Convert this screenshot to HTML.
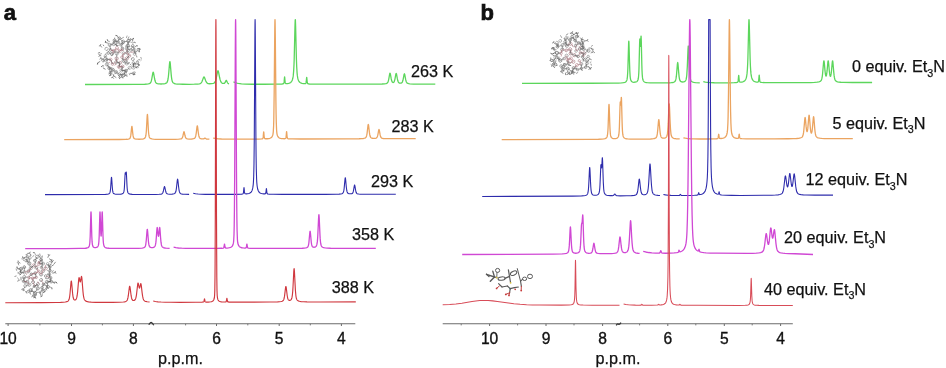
<!DOCTYPE html>
<html><head><meta charset="utf-8"><style>
html,body{margin:0;padding:0;background:#fff;}
body{width:946px;height:368px;position:relative;overflow:hidden;font-family:"Liberation Sans",sans-serif;}
</style></head><body>

<svg width="946" height="368" viewBox="0 0 946 368" style="position:absolute;left:0;top:0;will-change:transform">
<g><polygon points="131.36,68.16 130.17,69.37 128.53,68.94 128.08,67.31 129.27,66.10 130.91,66.53" fill="none" stroke="#848484" stroke-width="0.60"/>
<polygon points="122.32,45.02 121.30,46.15 119.82,45.83 119.35,44.39 120.37,43.26 121.85,43.57" fill="none" stroke="#848484" stroke-width="0.60"/>
<polygon points="133.96,60.18 132.48,60.61 131.36,59.55 131.72,58.04 133.21,57.61 134.32,58.68" fill="none" stroke="#5c5c5c" stroke-width="0.60"/>
<polygon points="118.36,49.12 116.83,49.87 115.41,48.92 115.52,47.21 117.06,46.46 118.48,47.41" fill="none" stroke="#b8868e" stroke-width="0.60"/>
<polygon points="123.17,58.52 121.58,58.69 120.64,57.41 121.29,55.95 122.87,55.78 123.81,57.06" fill="none" stroke="#a87880" stroke-width="0.60"/>
<polygon points="135.79,55.01 134.27,55.46 133.12,54.36 133.50,52.82 135.02,52.37 136.17,53.47" fill="none" stroke="#848484" stroke-width="0.60"/>
<polygon points="112.99,55.11 111.41,55.58 110.21,54.44 110.60,52.83 112.18,52.36 113.38,53.50" fill="none" stroke="#5c5c5c" stroke-width="0.60"/>
<polygon points="108.74,64.54 107.71,65.97 105.96,65.80 105.23,64.19 106.26,62.76 108.02,62.93" fill="none" stroke="#787878" stroke-width="0.60"/>
<polygon points="128.22,64.49 126.63,65.04 125.37,63.95 125.68,62.30 127.26,61.75 128.53,62.84" fill="none" stroke="#848484" stroke-width="0.60"/>
<polygon points="106.72,56.49 105.69,57.48 104.31,57.08 103.97,55.69 105.01,54.69 106.38,55.10" fill="none" stroke="#848484" stroke-width="0.60"/>
<polygon points="129.46,45.49 128.61,46.86 126.99,46.81 126.23,45.38 127.09,44.01 128.70,44.07" fill="none" stroke="#6a6a6a" stroke-width="0.60"/>
<polygon points="121.23,51.43 120.25,52.76 118.62,52.59 117.95,51.08 118.92,49.75 120.56,49.93" fill="none" stroke="#b8868e" stroke-width="0.60"/>
<polygon points="110.76,68.62 109.60,69.68 108.12,69.20 107.78,67.68 108.94,66.62 110.43,67.10" fill="none" stroke="#626262" stroke-width="0.60"/>
<polygon points="123.02,71.37 121.43,72.18 119.94,71.21 120.04,69.43 121.63,68.63 123.12,69.60" fill="none" stroke="#848484" stroke-width="0.60"/>
<polygon points="132.00,51.01 130.45,51.52 129.24,50.44 129.57,48.85 131.12,48.34 132.33,49.42" fill="none" stroke="#848484" stroke-width="0.60"/>
<polygon points="124.51,42.99 122.84,43.52 121.55,42.34 121.93,40.63 123.59,40.10 124.89,41.28" fill="none" stroke="#6a6a6a" stroke-width="0.60"/>
<polygon points="118.09,59.43 116.54,60.23 115.08,59.29 115.16,57.55 116.70,56.75 118.17,57.69" fill="none" stroke="#9a6a72" stroke-width="0.60"/>
<polygon points="114.13,70.77 112.56,71.46 111.19,70.44 111.38,68.74 112.95,68.06 114.32,69.07" fill="none" stroke="#626262" stroke-width="0.60"/>
<polygon points="107.70,50.11 106.05,50.53 104.85,49.31 105.32,47.66 106.97,47.24 108.17,48.46" fill="none" stroke="#787878" stroke-width="0.60"/>
<polygon points="134.59,64.24 133.10,64.69 131.97,63.63 132.32,62.11 133.81,61.67 134.94,62.73" fill="none" stroke="#787878" stroke-width="0.60"/>
<polygon points="121.55,63.41 120.31,64.47 118.77,63.92 118.48,62.31 119.73,61.26 121.26,61.81" fill="none" stroke="#a87880" stroke-width="0.60"/>
<polygon points="120.74,75.33 119.22,75.97 117.91,74.98 118.11,73.34 119.63,72.70 120.94,73.70" fill="none" stroke="#787878" stroke-width="0.60"/>
<polygon points="112.15,59.59 111.34,60.92 109.78,60.89 109.03,59.52 109.84,58.18 111.40,58.22" fill="none" stroke="#b8868e" stroke-width="0.60"/>
<polygon points="123.59,49.40 122.20,49.86 121.11,48.88 121.41,47.45 122.80,46.99 123.89,47.97" fill="none" stroke="#626262" stroke-width="0.60"/>
<polygon points="114.96,44.66 113.62,45.62 112.12,44.94 111.96,43.30 113.30,42.34 114.80,43.02" fill="none" stroke="#787878" stroke-width="0.60"/>
<polygon points="129.72,42.13 128.17,42.83 126.79,41.84 126.96,40.15 128.51,39.45 129.89,40.44" fill="none" stroke="#5c5c5c" stroke-width="0.60"/>
<polygon points="113.65,64.91 112.30,65.43 111.18,64.53 111.39,63.11 112.74,62.58 113.86,63.48" fill="none" stroke="#a87880" stroke-width="0.60"/>
<polygon points="120.40,67.10 119.29,68.22 117.77,67.82 117.35,66.30 118.46,65.18 119.98,65.58" fill="none" stroke="#a87880" stroke-width="0.60"/>
<polygon points="116.88,73.45 115.26,73.60 114.32,72.28 115.00,70.81 116.62,70.66 117.55,71.98" fill="none" stroke="#848484" stroke-width="0.60"/>
<polygon points="128.39,59.27 126.94,60.32 125.30,59.59 125.12,57.80 126.57,56.75 128.21,57.48" fill="none" stroke="#a87880" stroke-width="0.60"/>
<polygon points="109.74,53.28 108.74,54.39 107.28,54.08 106.82,52.67 107.82,51.56 109.27,51.86" fill="none" stroke="#787878" stroke-width="0.60"/>
<polygon points="130.72,56.49 129.38,57.40 127.93,56.69 127.81,55.08 129.15,54.17 130.60,54.87" fill="none" stroke="#a87880" stroke-width="0.60"/>
<polygon points="111.69,50.91 110.27,51.29 109.24,50.26 109.62,48.84 111.03,48.46 112.06,49.50" fill="none" stroke="#626262" stroke-width="0.60"/>
<polygon points="126.82,72.03 125.22,72.23 124.25,70.95 124.87,69.46 126.47,69.26 127.44,70.54" fill="none" stroke="#6a6a6a" stroke-width="0.60"/>
<polygon points="129.20,52.90 128.12,54.28 126.38,54.03 125.73,52.41 126.81,51.03 128.55,51.28" fill="none" stroke="#5c5c5c" stroke-width="0.60"/>
<polygon points="124.85,75.83 123.29,76.49 121.94,75.47 122.14,73.79 123.70,73.13 125.06,74.15" fill="none" stroke="#787878" stroke-width="0.60"/>
<polygon points="120.84,38.58 119.89,39.72 118.43,39.47 117.91,38.07 118.86,36.93 120.33,37.18" fill="none" stroke="#626262" stroke-width="0.60"/>
<polygon points="116.07,41.21 114.69,42.11 113.23,41.37 113.13,39.73 114.51,38.83 115.98,39.57" fill="none" stroke="#626262" stroke-width="0.60"/>
<polygon points="119.24,42.76 117.96,43.49 116.69,42.75 116.70,41.28 117.97,40.55 119.24,41.29" fill="none" stroke="#6a6a6a" stroke-width="0.60"/>
<polygon points="124.58,62.15 122.90,62.33 121.90,60.96 122.58,59.41 124.26,59.23 125.26,60.60" fill="none" stroke="#5c5c5c" stroke-width="0.60"/>
<polygon points="124.92,54.14 123.52,54.97 122.10,54.18 122.08,52.55 123.48,51.72 124.90,52.51" fill="none" stroke="#848484" stroke-width="0.60"/>
<polygon points="111.14,45.79 109.65,46.57 108.23,45.66 108.30,43.99 109.79,43.21 111.21,44.11" fill="none" stroke="#787878" stroke-width="0.60"/>
<polygon points="111.48,73.72 110.07,74.03 109.09,72.97 109.52,71.59 110.94,71.27 111.91,72.34" fill="none" stroke="#848484" stroke-width="0.60"/>
<polygon points="134.07,46.66 132.81,47.44 131.51,46.74 131.46,45.26 132.72,44.48 134.03,45.18" fill="none" stroke="#626262" stroke-width="0.60"/>
<polygon points="117.99,62.41 116.91,63.79 115.17,63.54 114.52,61.91 115.60,60.53 117.34,60.78" fill="none" stroke="#787878" stroke-width="0.60"/>
<polygon points="118.49,53.67 117.56,55.10 115.86,55.00 115.09,53.48 116.03,52.05 117.73,52.15" fill="none" stroke="#848484" stroke-width="0.60"/>
<polygon points="107.76,60.43 106.41,60.68 105.51,59.63 105.98,58.33 107.33,58.08 108.23,59.13" fill="none" stroke="#626262" stroke-width="0.60"/>
<polygon points="124.00,67.11 122.77,68.09 121.31,67.52 121.07,65.97 122.30,64.98 123.76,65.55" fill="none" stroke="#9a6a72" stroke-width="0.60"/>
<polygon points="103.95,61.14 102.58,61.62 101.49,60.68 101.75,59.26 103.12,58.78 104.21,59.72" fill="none" stroke="#787878" stroke-width="0.60"/>
<polygon points="134.60,68.81 132.84,69.16 131.65,67.81 132.23,66.10 134.00,65.75 135.18,67.11" fill="none" stroke="#848484" stroke-width="0.60"/>
<polygon points="135.48,51.46 133.80,51.62 132.82,50.24 133.53,48.71 135.21,48.55 136.19,49.93" fill="none" stroke="#848484" stroke-width="0.60"/>
<polygon points="128.46,49.43 127.44,50.46 126.04,50.09 125.66,48.69 126.68,47.66 128.08,48.03" fill="none" stroke="#626262" stroke-width="0.60"/>
<polygon points="115.95,51.36 114.77,52.70 113.02,52.34 112.45,50.65 113.63,49.32 115.38,49.67" fill="none" stroke="#a87880" stroke-width="0.60"/>
<line x1="129.72" y1="67.74" x2="125.85" y2="70.74" stroke="#6a6a6a" stroke-width="0.60"/>
<line x1="120.83" y1="44.70" x2="123.22" y2="41.81" stroke="#787878" stroke-width="0.60"/>
<line x1="116.94" y1="48.16" x2="114.20" y2="51.01" stroke="#a87880" stroke-width="0.60"/>
<line x1="116.94" y1="48.16" x2="119.59" y2="51.26" stroke="#a87880" stroke-width="0.60"/>
<line x1="122.23" y1="57.23" x2="123.58" y2="60.78" stroke="#5c5c5c" stroke-width="0.60"/>
<line x1="122.23" y1="57.23" x2="123.50" y2="53.35" stroke="#9a6a72" stroke-width="0.60"/>
<line x1="111.80" y1="53.97" x2="114.20" y2="51.01" stroke="#9a6a72" stroke-width="0.60"/>
<line x1="106.99" y1="64.37" x2="109.27" y2="68.15" stroke="#848484" stroke-width="0.60"/>
<line x1="106.99" y1="64.37" x2="106.87" y2="59.38" stroke="#787878" stroke-width="0.60"/>
<line x1="126.95" y1="63.40" x2="123.58" y2="60.78" stroke="#787878" stroke-width="0.60"/>
<line x1="126.95" y1="63.40" x2="126.76" y2="58.54" stroke="#626262" stroke-width="0.60"/>
<line x1="127.85" y1="45.44" x2="127.06" y2="49.06" stroke="#6a6a6a" stroke-width="0.60"/>
<line x1="127.85" y1="45.44" x2="128.34" y2="41.14" stroke="#5c5c5c" stroke-width="0.60"/>
<line x1="119.59" y1="51.26" x2="116.79" y2="53.58" stroke="#848484" stroke-width="0.60"/>
<line x1="119.59" y1="51.26" x2="122.50" y2="48.43" stroke="#9a6a72" stroke-width="0.60"/>
<line x1="109.27" y1="68.15" x2="112.75" y2="69.76" stroke="#787878" stroke-width="0.60"/>
<line x1="109.27" y1="68.15" x2="106.99" y2="64.37" stroke="#6a6a6a" stroke-width="0.60"/>
<line x1="121.53" y1="70.40" x2="122.54" y2="66.54" stroke="#848484" stroke-width="0.60"/>
<line x1="121.53" y1="70.40" x2="125.85" y2="70.74" stroke="#626262" stroke-width="0.60"/>
<line x1="130.79" y1="49.93" x2="134.50" y2="50.09" stroke="#626262" stroke-width="0.60"/>
<line x1="130.79" y1="49.93" x2="127.06" y2="49.06" stroke="#6a6a6a" stroke-width="0.60"/>
<line x1="123.22" y1="41.81" x2="120.83" y2="44.70" stroke="#787878" stroke-width="0.60"/>
<line x1="123.22" y1="41.81" x2="128.34" y2="41.14" stroke="#6a6a6a" stroke-width="0.60"/>
<line x1="116.62" y1="58.49" x2="116.26" y2="62.16" stroke="#5c5c5c" stroke-width="0.60"/>
<line x1="116.62" y1="58.49" x2="116.79" y2="53.58" stroke="#787878" stroke-width="0.60"/>
<line x1="112.75" y1="69.76" x2="110.50" y2="72.65" stroke="#626262" stroke-width="0.60"/>
<line x1="112.75" y1="69.76" x2="109.27" y2="68.15" stroke="#787878" stroke-width="0.60"/>
<line x1="133.46" y1="63.18" x2="133.42" y2="67.46" stroke="#5c5c5c" stroke-width="0.60"/>
<line x1="120.02" y1="62.86" x2="116.26" y2="62.16" stroke="#6a6a6a" stroke-width="0.60"/>
<line x1="120.02" y1="62.86" x2="118.87" y2="66.70" stroke="#626262" stroke-width="0.60"/>
<line x1="119.43" y1="74.34" x2="123.50" y2="74.81" stroke="#6a6a6a" stroke-width="0.60"/>
<line x1="119.43" y1="74.34" x2="115.94" y2="72.13" stroke="#626262" stroke-width="0.60"/>
<line x1="110.59" y1="59.55" x2="106.87" y2="59.38" stroke="#5c5c5c" stroke-width="0.60"/>
<line x1="110.59" y1="59.55" x2="112.52" y2="64.01" stroke="#9a6a72" stroke-width="0.60"/>
<line x1="122.50" y1="48.43" x2="119.59" y2="51.26" stroke="#9a6a72" stroke-width="0.60"/>
<line x1="122.50" y1="48.43" x2="120.83" y2="44.70" stroke="#848484" stroke-width="0.60"/>
<line x1="113.46" y1="43.98" x2="114.60" y2="40.47" stroke="#5c5c5c" stroke-width="0.60"/>
<line x1="113.46" y1="43.98" x2="109.72" y2="44.89" stroke="#848484" stroke-width="0.60"/>
<line x1="128.34" y1="41.14" x2="127.85" y2="45.44" stroke="#6a6a6a" stroke-width="0.60"/>
<line x1="112.52" y1="64.01" x2="116.26" y2="62.16" stroke="#b8868e" stroke-width="0.60"/>
<line x1="112.52" y1="64.01" x2="110.59" y2="59.55" stroke="#6a6a6a" stroke-width="0.60"/>
<line x1="118.87" y1="66.70" x2="122.54" y2="66.54" stroke="#9a6a72" stroke-width="0.60"/>
<line x1="118.87" y1="66.70" x2="120.02" y2="62.86" stroke="#5c5c5c" stroke-width="0.60"/>
<line x1="115.94" y1="72.13" x2="112.75" y2="69.76" stroke="#6a6a6a" stroke-width="0.60"/>
<line x1="126.76" y1="58.54" x2="129.26" y2="55.78" stroke="#5c5c5c" stroke-width="0.60"/>
<line x1="108.28" y1="52.97" x2="111.80" y2="53.97" stroke="#848484" stroke-width="0.60"/>
<line x1="129.26" y1="55.78" x2="127.47" y2="52.66" stroke="#b8868e" stroke-width="0.60"/>
<line x1="129.26" y1="55.78" x2="126.76" y2="58.54" stroke="#6a6a6a" stroke-width="0.60"/>
<line x1="110.65" y1="49.88" x2="114.20" y2="51.01" stroke="#a87880" stroke-width="0.60"/>
<line x1="125.85" y1="70.74" x2="121.53" y2="70.40" stroke="#5c5c5c" stroke-width="0.60"/>
<line x1="125.85" y1="70.74" x2="123.50" y2="74.81" stroke="#6a6a6a" stroke-width="0.60"/>
<line x1="127.47" y1="52.66" x2="129.26" y2="55.78" stroke="#b8868e" stroke-width="0.60"/>
<line x1="127.47" y1="52.66" x2="127.06" y2="49.06" stroke="#a87880" stroke-width="0.60"/>
<line x1="123.50" y1="74.81" x2="119.43" y2="74.34" stroke="#6a6a6a" stroke-width="0.60"/>
<line x1="123.50" y1="74.81" x2="125.85" y2="70.74" stroke="#6a6a6a" stroke-width="0.60"/>
<line x1="119.38" y1="38.33" x2="117.97" y2="42.02" stroke="#6a6a6a" stroke-width="0.60"/>
<line x1="119.38" y1="38.33" x2="123.22" y2="41.81" stroke="#5c5c5c" stroke-width="0.60"/>
<line x1="114.60" y1="40.47" x2="113.46" y2="43.98" stroke="#787878" stroke-width="0.60"/>
<line x1="114.60" y1="40.47" x2="117.97" y2="42.02" stroke="#626262" stroke-width="0.60"/>
<line x1="117.97" y1="42.02" x2="114.60" y2="40.47" stroke="#6a6a6a" stroke-width="0.60"/>
<line x1="117.97" y1="42.02" x2="120.83" y2="44.70" stroke="#848484" stroke-width="0.60"/>
<line x1="123.58" y1="60.78" x2="126.76" y2="58.54" stroke="#9a6a72" stroke-width="0.60"/>
<line x1="123.50" y1="53.35" x2="127.47" y2="52.66" stroke="#9a6a72" stroke-width="0.60"/>
<line x1="123.50" y1="53.35" x2="122.23" y2="57.23" stroke="#b8868e" stroke-width="0.60"/>
<line x1="109.72" y1="44.89" x2="113.46" y2="43.98" stroke="#848484" stroke-width="0.60"/>
<line x1="109.72" y1="44.89" x2="110.65" y2="49.88" stroke="#6a6a6a" stroke-width="0.60"/>
<line x1="110.50" y1="72.65" x2="112.75" y2="69.76" stroke="#848484" stroke-width="0.60"/>
<line x1="110.50" y1="72.65" x2="109.27" y2="68.15" stroke="#626262" stroke-width="0.60"/>
<line x1="132.77" y1="45.96" x2="130.79" y2="49.93" stroke="#848484" stroke-width="0.60"/>
<line x1="132.77" y1="45.96" x2="134.50" y2="50.09" stroke="#626262" stroke-width="0.60"/>
<line x1="116.26" y1="62.16" x2="116.62" y2="58.49" stroke="#b8868e" stroke-width="0.60"/>
<line x1="116.26" y1="62.16" x2="120.02" y2="62.86" stroke="#6a6a6a" stroke-width="0.60"/>
<line x1="116.79" y1="53.58" x2="119.59" y2="51.26" stroke="#787878" stroke-width="0.60"/>
<line x1="106.87" y1="59.38" x2="105.35" y2="56.09" stroke="#787878" stroke-width="0.60"/>
<line x1="106.87" y1="59.38" x2="110.59" y2="59.55" stroke="#848484" stroke-width="0.60"/>
<line x1="122.54" y1="66.54" x2="118.87" y2="66.70" stroke="#9a6a72" stroke-width="0.60"/>
<line x1="122.54" y1="66.54" x2="121.53" y2="70.40" stroke="#6a6a6a" stroke-width="0.60"/>
<line x1="102.85" y1="60.20" x2="106.87" y2="59.38" stroke="#787878" stroke-width="0.60"/>
<line x1="102.85" y1="60.20" x2="105.35" y2="56.09" stroke="#6a6a6a" stroke-width="0.60"/>
<line x1="133.42" y1="67.46" x2="133.46" y2="63.18" stroke="#5c5c5c" stroke-width="0.60"/>
<line x1="134.50" y1="50.09" x2="134.64" y2="53.91" stroke="#626262" stroke-width="0.60"/>
<line x1="127.06" y1="49.06" x2="127.47" y2="52.66" stroke="#787878" stroke-width="0.60"/>
<line x1="127.06" y1="49.06" x2="127.85" y2="45.44" stroke="#787878" stroke-width="0.60"/>
<line x1="114.20" y1="51.01" x2="110.65" y2="49.88" stroke="#9a6a72" stroke-width="0.60"/>
<line x1="135.97" y1="61.80" x2="137.54" y2="61.75" stroke="#5c5c5c" stroke-width="0.70"/>
<line x1="114.36" y1="39.70" x2="114.69" y2="37.55" stroke="#848484" stroke-width="0.70"/>
<line x1="131.67" y1="73.15" x2="133.07" y2="74.70" stroke="#5c5c5c" stroke-width="0.70"/>
<line x1="133.07" y1="74.70" x2="134.66" y2="74.58" stroke="#5c5c5c" stroke-width="0.70"/>
<line x1="133.07" y1="74.70" x2="134.63" y2="74.38" stroke="#5c5c5c" stroke-width="0.70"/>
<line x1="108.68" y1="43.36" x2="105.68" y2="42.48" stroke="#6a6a6a" stroke-width="0.70"/>
<line x1="105.68" y1="42.48" x2="105.46" y2="40.90" stroke="#6a6a6a" stroke-width="0.70"/>
<line x1="105.68" y1="42.48" x2="105.39" y2="40.91" stroke="#6a6a6a" stroke-width="0.70"/>
<line x1="124.61" y1="73.13" x2="125.25" y2="75.56" stroke="#5c5c5c" stroke-width="0.70"/>
<line x1="125.25" y1="75.56" x2="124.01" y2="76.57" stroke="#5c5c5c" stroke-width="0.70"/>
<line x1="125.25" y1="75.56" x2="126.84" y2="75.68" stroke="#5c5c5c" stroke-width="0.70"/>
<line x1="134.46" y1="66.71" x2="136.13" y2="67.60" stroke="#848484" stroke-width="0.70"/>
<line x1="136.13" y1="67.60" x2="137.31" y2="66.52" stroke="#848484" stroke-width="0.70"/>
<line x1="136.13" y1="67.60" x2="137.50" y2="66.79" stroke="#848484" stroke-width="0.70"/>
<line x1="129.00" y1="42.20" x2="131.09" y2="39.80" stroke="#787878" stroke-width="0.70"/>
<line x1="131.09" y1="39.80" x2="130.28" y2="38.42" stroke="#787878" stroke-width="0.70"/>
<line x1="131.09" y1="39.80" x2="130.62" y2="38.27" stroke="#787878" stroke-width="0.70"/>
<line x1="119.77" y1="75.57" x2="119.04" y2="77.67" stroke="#787878" stroke-width="0.70"/>
<line x1="119.04" y1="77.67" x2="119.98" y2="78.96" stroke="#787878" stroke-width="0.70"/>
<line x1="119.04" y1="77.67" x2="119.87" y2="79.04" stroke="#787878" stroke-width="0.70"/>
<line x1="113.73" y1="74.91" x2="112.77" y2="77.45" stroke="#626262" stroke-width="0.70"/>
<line x1="112.77" y1="77.45" x2="111.19" y2="77.70" stroke="#626262" stroke-width="0.70"/>
<line x1="112.77" y1="77.45" x2="113.79" y2="78.68" stroke="#626262" stroke-width="0.70"/>
<line x1="132.50" y1="43.61" x2="134.07" y2="42.18" stroke="#848484" stroke-width="0.70"/>
<line x1="134.07" y1="42.18" x2="135.52" y2="42.87" stroke="#848484" stroke-width="0.70"/>
<line x1="134.07" y1="42.18" x2="135.63" y2="42.52" stroke="#848484" stroke-width="0.70"/>
<line x1="103.02" y1="59.40" x2="100.83" y2="58.44" stroke="#6a6a6a" stroke-width="0.70"/>
<line x1="100.83" y1="58.44" x2="100.92" y2="56.84" stroke="#6a6a6a" stroke-width="0.70"/>
<line x1="100.83" y1="58.44" x2="99.47" y2="59.28" stroke="#6a6a6a" stroke-width="0.70"/>
<line x1="138.27" y1="51.58" x2="139.95" y2="51.84" stroke="#5c5c5c" stroke-width="0.70"/>
<line x1="111.03" y1="72.16" x2="110.68" y2="75.26" stroke="#787878" stroke-width="0.70"/>
<line x1="110.68" y1="75.26" x2="109.11" y2="75.53" stroke="#787878" stroke-width="0.70"/>
<line x1="110.68" y1="75.26" x2="109.17" y2="75.78" stroke="#787878" stroke-width="0.70"/>
<line x1="130.97" y1="39.92" x2="133.44" y2="38.31" stroke="#848484" stroke-width="0.70"/>
<line x1="100.23" y1="61.38" x2="97.68" y2="62.86" stroke="#5c5c5c" stroke-width="0.70"/>
<line x1="97.68" y1="62.86" x2="97.63" y2="64.46" stroke="#5c5c5c" stroke-width="0.70"/>
<line x1="97.68" y1="62.86" x2="97.31" y2="64.41" stroke="#5c5c5c" stroke-width="0.70"/>
<line x1="135.79" y1="67.54" x2="137.43" y2="67.85" stroke="#5c5c5c" stroke-width="0.70"/>
<line x1="101.88" y1="47.47" x2="100.46" y2="45.60" stroke="#626262" stroke-width="0.70"/>
<line x1="100.46" y1="45.60" x2="98.91" y2="45.99" stroke="#626262" stroke-width="0.70"/>
<line x1="100.46" y1="45.60" x2="100.80" y2="44.04" stroke="#626262" stroke-width="0.70"/>
<line x1="118.55" y1="38.16" x2="117.16" y2="35.68" stroke="#6a6a6a" stroke-width="0.70"/>
<line x1="117.16" y1="35.68" x2="115.60" y2="35.33" stroke="#6a6a6a" stroke-width="0.70"/>
<line x1="117.16" y1="35.68" x2="115.56" y2="35.65" stroke="#6a6a6a" stroke-width="0.70"/>
<line x1="110.31" y1="71.07" x2="109.90" y2="73.59" stroke="#787878" stroke-width="0.70"/>
<line x1="109.90" y1="73.59" x2="111.12" y2="74.62" stroke="#787878" stroke-width="0.70"/>
<line x1="109.90" y1="73.59" x2="108.35" y2="74.00" stroke="#787878" stroke-width="0.70"/>
<line x1="131.99" y1="72.97" x2="134.39" y2="73.54" stroke="#6a6a6a" stroke-width="0.70"/>
<line x1="134.39" y1="73.54" x2="135.66" y2="72.57" stroke="#6a6a6a" stroke-width="0.70"/>
<line x1="134.39" y1="73.54" x2="135.11" y2="74.97" stroke="#6a6a6a" stroke-width="0.70"/>
<line x1="137.48" y1="49.87" x2="139.30" y2="50.11" stroke="#626262" stroke-width="0.70"/>
<line x1="139.30" y1="50.11" x2="140.17" y2="48.77" stroke="#626262" stroke-width="0.70"/>
<line x1="139.30" y1="50.11" x2="139.56" y2="51.69" stroke="#626262" stroke-width="0.70"/>
<line x1="138.23" y1="59.81" x2="140.27" y2="59.73" stroke="#626262" stroke-width="0.70"/>
<line x1="132.63" y1="41.31" x2="132.69" y2="39.25" stroke="#626262" stroke-width="0.70"/>
<line x1="132.69" y1="39.25" x2="133.96" y2="38.28" stroke="#626262" stroke-width="0.70"/>
<line x1="132.69" y1="39.25" x2="133.98" y2="38.31" stroke="#626262" stroke-width="0.70"/>
<line x1="140.30" y1="57.64" x2="141.93" y2="58.29" stroke="#6a6a6a" stroke-width="0.70"/>
<line x1="136.78" y1="62.74" x2="138.33" y2="65.07" stroke="#6a6a6a" stroke-width="0.70"/>
<line x1="138.33" y1="65.07" x2="139.93" y2="64.99" stroke="#6a6a6a" stroke-width="0.70"/>
<line x1="138.33" y1="65.07" x2="139.92" y2="64.87" stroke="#6a6a6a" stroke-width="0.70"/>
<line x1="136.25" y1="51.70" x2="137.95" y2="50.43" stroke="#626262" stroke-width="0.70"/>
<line x1="135.30" y1="66.15" x2="137.06" y2="67.52" stroke="#787878" stroke-width="0.70"/>
<line x1="136.95" y1="66.28" x2="139.02" y2="67.35" stroke="#787878" stroke-width="0.70"/>
<line x1="136.95" y1="48.86" x2="139.17" y2="48.33" stroke="#626262" stroke-width="0.70"/>
<line x1="139.17" y1="48.33" x2="139.95" y2="49.72" stroke="#626262" stroke-width="0.70"/>
<line x1="139.17" y1="48.33" x2="140.46" y2="49.27" stroke="#626262" stroke-width="0.70"/>
<line x1="100.08" y1="52.41" x2="97.88" y2="53.21" stroke="#5c5c5c" stroke-width="0.70"/>
<line x1="137.09" y1="60.17" x2="138.80" y2="62.30" stroke="#6a6a6a" stroke-width="0.70"/>
<line x1="121.50" y1="74.41" x2="121.48" y2="77.08" stroke="#787878" stroke-width="0.70"/>
<line x1="121.48" y1="77.08" x2="119.94" y2="77.52" stroke="#787878" stroke-width="0.70"/>
<line x1="121.48" y1="77.08" x2="122.88" y2="77.84" stroke="#787878" stroke-width="0.70"/>
<line x1="122.49" y1="75.28" x2="121.88" y2="77.05" stroke="#848484" stroke-width="0.70"/>
<line x1="121.88" y1="77.05" x2="122.94" y2="78.24" stroke="#848484" stroke-width="0.70"/>
<line x1="121.88" y1="77.05" x2="123.12" y2="78.05" stroke="#848484" stroke-width="0.70"/>
<line x1="101.15" y1="55.55" x2="99.61" y2="55.64" stroke="#6a6a6a" stroke-width="0.70"/>
<line x1="99.61" y1="55.64" x2="98.64" y2="56.92" stroke="#6a6a6a" stroke-width="0.70"/>
<line x1="99.61" y1="55.64" x2="98.62" y2="54.38" stroke="#6a6a6a" stroke-width="0.70"/>
<line x1="109.68" y1="41.51" x2="107.64" y2="40.92" stroke="#787878" stroke-width="0.70"/>
<line x1="107.64" y1="40.92" x2="107.43" y2="39.33" stroke="#787878" stroke-width="0.70"/>
<line x1="107.64" y1="40.92" x2="107.13" y2="39.40" stroke="#787878" stroke-width="0.70"/>
<line x1="127.76" y1="39.30" x2="129.07" y2="36.58" stroke="#787878" stroke-width="0.70"/>
<line x1="126.34" y1="38.09" x2="127.16" y2="35.60" stroke="#848484" stroke-width="0.70"/>
<line x1="103.96" y1="46.12" x2="103.02" y2="44.70" stroke="#5c5c5c" stroke-width="0.70"/>
<line x1="134.49" y1="47.72" x2="136.13" y2="45.76" stroke="#787878" stroke-width="0.70"/>
<line x1="136.13" y1="45.76" x2="137.72" y2="45.88" stroke="#787878" stroke-width="0.70"/>
<line x1="136.13" y1="45.76" x2="137.73" y2="45.86" stroke="#787878" stroke-width="0.70"/>
<line x1="104.07" y1="65.99" x2="102.41" y2="65.78" stroke="#5c5c5c" stroke-width="0.70"/>
<line x1="102.41" y1="65.78" x2="101.31" y2="66.94" stroke="#5c5c5c" stroke-width="0.70"/>
<line x1="102.41" y1="65.78" x2="101.22" y2="66.85" stroke="#5c5c5c" stroke-width="0.70"/>
<line x1="127.12" y1="77.00" x2="126.71" y2="74.07" stroke="#848484" stroke-width="0.66"/>
<line x1="135.48" y1="54.33" x2="135.84" y2="51.40" stroke="#6a6a6a" stroke-width="0.74"/>
<line x1="99.23" y1="54.49" x2="101.91" y2="53.58" stroke="#6a6a6a" stroke-width="0.58"/>
<line x1="116.31" y1="77.66" x2="113.62" y2="75.87" stroke="#5c5c5c" stroke-width="0.69"/>
<line x1="125.19" y1="64.63" x2="124.96" y2="61.74" stroke="#848484" stroke-width="0.75"/>
<line x1="114.71" y1="51.61" x2="116.30" y2="52.16" stroke="#787878" stroke-width="0.75"/>
<line x1="126.27" y1="45.45" x2="125.61" y2="47.59" stroke="#5c5c5c" stroke-width="0.72"/>
<line x1="114.67" y1="50.30" x2="114.42" y2="52.93" stroke="#848484" stroke-width="0.71"/>
<line x1="119.67" y1="68.07" x2="118.14" y2="67.69" stroke="#9a6a72" stroke-width="0.70"/>
<line x1="109.15" y1="51.09" x2="107.07" y2="53.10" stroke="#787878" stroke-width="0.73"/>
<line x1="129.65" y1="63.73" x2="131.40" y2="65.28" stroke="#626262" stroke-width="0.64"/>
<line x1="110.21" y1="68.82" x2="109.31" y2="66.66" stroke="#626262" stroke-width="0.64"/>
<line x1="105.20" y1="42.87" x2="105.70" y2="41.08" stroke="#6a6a6a" stroke-width="0.73"/>
<line x1="129.76" y1="62.41" x2="126.94" y2="63.80" stroke="#5c5c5c" stroke-width="0.58"/>
<line x1="130.39" y1="52.41" x2="133.68" y2="51.95" stroke="#a87880" stroke-width="0.68"/>
<line x1="123.96" y1="43.12" x2="121.77" y2="45.43" stroke="#6a6a6a" stroke-width="0.66"/>
<line x1="123.36" y1="42.27" x2="121.39" y2="44.00" stroke="#6a6a6a" stroke-width="0.68"/>
<line x1="137.19" y1="64.35" x2="134.01" y2="63.00" stroke="#6a6a6a" stroke-width="0.64"/>
<line x1="132.62" y1="72.36" x2="135.18" y2="71.95" stroke="#787878" stroke-width="0.74"/>
<line x1="118.32" y1="74.98" x2="120.25" y2="77.68" stroke="#787878" stroke-width="0.73"/>
<line x1="129.91" y1="75.19" x2="129.11" y2="73.46" stroke="#626262" stroke-width="0.55"/>
<line x1="104.96" y1="54.26" x2="106.50" y2="53.87" stroke="#626262" stroke-width="0.62"/>
<line x1="127.70" y1="39.74" x2="130.25" y2="39.52" stroke="#6a6a6a" stroke-width="0.67"/>
<line x1="110.08" y1="62.58" x2="108.49" y2="62.54" stroke="#b8868e" stroke-width="0.68"/>
<line x1="123.62" y1="50.35" x2="120.98" y2="50.19" stroke="#9a6a72" stroke-width="0.77"/>
<line x1="114.50" y1="45.19" x2="116.49" y2="43.73" stroke="#848484" stroke-width="0.73"/>
<line x1="130.61" y1="42.53" x2="133.15" y2="41.99" stroke="#787878" stroke-width="0.56"/>
<line x1="116.00" y1="72.77" x2="114.57" y2="73.25" stroke="#626262" stroke-width="0.62"/>
<line x1="126.65" y1="70.85" x2="126.24" y2="73.52" stroke="#787878" stroke-width="0.71"/>
<line x1="114.36" y1="75.06" x2="112.10" y2="73.81" stroke="#848484" stroke-width="0.62"/>
<line x1="111.51" y1="55.56" x2="113.40" y2="53.19" stroke="#6a6a6a" stroke-width="0.75"/>
<line x1="126.99" y1="47.34" x2="130.22" y2="46.51" stroke="#6a6a6a" stroke-width="0.77"/>
<line x1="133.89" y1="65.47" x2="133.95" y2="62.86" stroke="#626262" stroke-width="0.70"/>
<line x1="115.87" y1="42.51" x2="116.79" y2="45.70" stroke="#626262" stroke-width="0.63"/>
<line x1="104.86" y1="60.22" x2="103.20" y2="62.49" stroke="#6a6a6a" stroke-width="0.57"/>
<line x1="110.93" y1="73.65" x2="110.73" y2="75.82" stroke="#6a6a6a" stroke-width="0.69"/>
<line x1="105.52" y1="69.35" x2="102.89" y2="67.79" stroke="#626262" stroke-width="0.78"/>
<line x1="111.04" y1="67.25" x2="112.19" y2="68.31" stroke="#848484" stroke-width="0.74"/>
<line x1="120.80" y1="38.93" x2="123.83" y2="37.20" stroke="#787878" stroke-width="0.68"/>
<line x1="132.26" y1="73.35" x2="129.76" y2="73.40" stroke="#787878" stroke-width="0.79"/>
<line x1="138.28" y1="62.25" x2="138.56" y2="65.66" stroke="#5c5c5c" stroke-width="0.66"/>
<line x1="117.19" y1="46.54" x2="115.21" y2="44.16" stroke="#5c5c5c" stroke-width="0.72"/>
<line x1="122.90" y1="77.66" x2="124.49" y2="76.15" stroke="#848484" stroke-width="0.75"/>
<line x1="104.05" y1="60.23" x2="105.72" y2="62.25" stroke="#6a6a6a" stroke-width="0.56"/>
<line x1="116.91" y1="72.18" x2="116.89" y2="70.57" stroke="#848484" stroke-width="0.79"/>
<line x1="135.28" y1="65.55" x2="135.74" y2="62.62" stroke="#6a6a6a" stroke-width="0.56"/>
<line x1="116.22" y1="45.27" x2="118.54" y2="45.55" stroke="#6a6a6a" stroke-width="0.76"/>
<line x1="140.57" y1="60.84" x2="141.76" y2="59.66" stroke="#787878" stroke-width="0.60"/>
<line x1="136.52" y1="55.42" x2="136.89" y2="57.35" stroke="#787878" stroke-width="0.78"/>
<line x1="116.24" y1="63.97" x2="114.78" y2="65.44" stroke="#a87880" stroke-width="0.80"/></g>
<g><polygon points="51.38,270.80 50.59,271.93 49.22,271.81 48.64,270.57 49.42,269.44 50.79,269.56" fill="none" stroke="#6a6a6a" stroke-width="0.60"/>
<polygon points="36.19,261.49 34.84,262.12 33.62,261.28 33.74,259.79 35.09,259.16 36.31,260.00" fill="none" stroke="#626262" stroke-width="0.60"/>
<polygon points="51.68,278.88 50.03,279.59 48.58,278.52 48.79,276.73 50.44,276.02 51.88,277.09" fill="none" stroke="#626262" stroke-width="0.60"/>
<polygon points="30.02,277.36 29.30,278.53 27.94,278.49 27.29,277.29 28.00,276.12 29.37,276.16" fill="none" stroke="#b8868e" stroke-width="0.60"/>
<polygon points="47.33,268.73 46.22,270.08 44.49,269.80 43.88,268.16 44.99,266.81 46.71,267.10" fill="none" stroke="#a87880" stroke-width="0.60"/>
<polygon points="47.02,276.74 45.81,277.46 44.58,276.77 44.56,275.36 45.77,274.64 47.00,275.33" fill="none" stroke="#626262" stroke-width="0.60"/>
<polygon points="44.90,292.03 43.28,292.56 42.01,291.41 42.37,289.74 43.99,289.21 45.26,290.36" fill="none" stroke="#787878" stroke-width="0.60"/>
<polygon points="40.04,265.04 38.25,265.20 37.23,263.73 37.99,262.10 39.77,261.95 40.80,263.42" fill="none" stroke="#b8868e" stroke-width="0.60"/>
<polygon points="25.86,273.15 24.35,274.07 22.80,273.22 22.76,271.46 24.27,270.54 25.82,271.39" fill="none" stroke="#787878" stroke-width="0.60"/>
<polygon points="30.96,264.09 29.61,265.22 27.96,264.61 27.66,262.88 29.01,261.76 30.66,262.36" fill="none" stroke="#626262" stroke-width="0.60"/>
<polygon points="39.54,284.38 38.48,285.67 36.84,285.39 36.26,283.83 37.32,282.55 38.96,282.82" fill="none" stroke="#787878" stroke-width="0.60"/>
<polygon points="32.22,291.14 30.70,291.95 29.24,291.03 29.30,289.31 30.83,288.50 32.29,289.42" fill="none" stroke="#626262" stroke-width="0.60"/>
<polygon points="34.05,283.41 32.48,283.58 31.54,282.31 32.18,280.87 33.75,280.69 34.69,281.96" fill="none" stroke="#5c5c5c" stroke-width="0.60"/>
<polygon points="42.72,274.59 41.85,275.94 40.25,275.86 39.51,274.43 40.38,273.08 41.99,273.16" fill="none" stroke="#5c5c5c" stroke-width="0.60"/>
<polygon points="37.38,269.00 35.95,269.33 34.95,268.25 35.39,266.85 36.82,266.52 37.82,267.60" fill="none" stroke="#5c5c5c" stroke-width="0.60"/>
<polygon points="24.79,281.76 23.73,282.62 22.46,282.14 22.24,280.79 23.29,279.93 24.57,280.41" fill="none" stroke="#6a6a6a" stroke-width="0.60"/>
<polygon points="37.61,277.42 36.83,278.58 35.43,278.49 34.81,277.23 35.59,276.06 36.99,276.16" fill="none" stroke="#a87880" stroke-width="0.60"/>
<polygon points="25.18,268.35 23.72,268.46 22.90,267.25 23.53,265.93 24.99,265.82 25.81,267.03" fill="none" stroke="#5c5c5c" stroke-width="0.60"/>
<polygon points="31.07,284.91 30.07,286.27 28.39,286.08 27.72,284.53 28.72,283.18 30.40,283.37" fill="none" stroke="#787878" stroke-width="0.60"/>
<polygon points="48.74,281.84 47.84,283.31 46.12,283.27 45.29,281.76 46.19,280.28 47.91,280.32" fill="none" stroke="#6a6a6a" stroke-width="0.60"/>
<polygon points="36.10,293.85 34.56,294.41 33.30,293.36 33.59,291.74 35.13,291.18 36.39,292.24" fill="none" stroke="#6a6a6a" stroke-width="0.60"/>
<polygon points="42.66,280.34 41.59,281.47 40.08,281.11 39.63,279.63 40.70,278.49 42.21,278.85" fill="none" stroke="#5c5c5c" stroke-width="0.60"/>
<polygon points="42.42,260.23 41.23,261.09 39.90,260.48 39.75,259.03 40.94,258.17 42.28,258.77" fill="none" stroke="#626262" stroke-width="0.60"/>
<polygon points="32.80,274.26 32.08,275.46 30.68,275.43 30.01,274.21 30.73,273.01 32.13,273.04" fill="none" stroke="#5c5c5c" stroke-width="0.60"/>
<polygon points="31.84,269.41 30.09,269.56 29.09,268.12 29.83,266.53 31.59,266.38 32.59,267.82" fill="none" stroke="#848484" stroke-width="0.60"/>
<polygon points="35.38,265.78 34.28,267.18 32.52,266.93 31.85,265.28 32.95,263.88 34.71,264.13" fill="none" stroke="#b8868e" stroke-width="0.60"/>
<polygon points="44.93,284.39 44.14,285.52 42.76,285.40 42.18,284.15 42.97,283.02 44.34,283.14" fill="none" stroke="#5c5c5c" stroke-width="0.60"/>
<polygon points="39.30,289.14 37.94,290.09 36.44,289.38 36.30,287.73 37.66,286.79 39.16,287.49" fill="none" stroke="#626262" stroke-width="0.60"/>
<polygon points="25.94,277.76 24.59,278.82 23.00,278.18 22.76,276.48 24.11,275.42 25.70,276.06" fill="none" stroke="#6a6a6a" stroke-width="0.60"/>
<polygon points="48.92,264.74 47.63,265.49 46.34,264.74 46.34,263.25 47.63,262.50 48.92,263.25" fill="none" stroke="#848484" stroke-width="0.60"/>
<polygon points="26.91,261.79 25.56,261.93 24.76,260.84 25.31,259.60 26.66,259.45 27.46,260.55" fill="none" stroke="#626262" stroke-width="0.60"/>
<polygon points="44.40,264.39 42.98,265.29 41.48,264.50 41.42,262.81 42.84,261.91 44.34,262.70" fill="none" stroke="#787878" stroke-width="0.60"/>
<polygon points="39.02,257.27 37.75,258.55 36.01,258.09 35.54,256.36 36.80,255.08 38.54,255.53" fill="none" stroke="#6a6a6a" stroke-width="0.60"/>
<polygon points="21.87,273.12 20.81,274.29 19.26,273.96 18.78,272.46 19.84,271.29 21.38,271.62" fill="none" stroke="#626262" stroke-width="0.60"/>
<polygon points="30.81,259.03 29.20,259.52 27.97,258.37 28.35,256.73 29.96,256.24 31.19,257.39" fill="none" stroke="#787878" stroke-width="0.60"/>
<polygon points="36.20,274.27 34.74,274.60 33.73,273.50 34.17,272.08 35.63,271.75 36.64,272.84" fill="none" stroke="#626262" stroke-width="0.60"/>
<polygon points="48.88,288.06 47.24,288.28 46.23,286.97 46.86,285.44 48.50,285.22 49.51,286.53" fill="none" stroke="#5c5c5c" stroke-width="0.60"/>
<polygon points="28.89,282.15 27.72,283.34 26.11,282.93 25.66,281.32 26.83,280.13 28.45,280.55" fill="none" stroke="#6a6a6a" stroke-width="0.60"/>
<polygon points="44.23,272.20 42.64,272.78 41.33,271.70 41.62,270.03 43.21,269.44 44.52,270.52" fill="none" stroke="#848484" stroke-width="0.60"/>
<polygon points="42.75,267.86 41.68,268.72 40.39,268.22 40.18,266.86 41.25,265.99 42.54,266.49" fill="none" stroke="#848484" stroke-width="0.60"/>
<polygon points="26.68,286.62 25.29,287.44 23.89,286.64 23.88,285.03 25.27,284.22 26.66,285.01" fill="none" stroke="#848484" stroke-width="0.60"/>
<polygon points="35.50,287.10 34.15,287.43 33.20,286.43 33.59,285.10 34.94,284.78 35.89,285.78" fill="none" stroke="#626262" stroke-width="0.60"/>
<polygon points="29.65,272.15 28.28,272.84 27.00,272.00 27.09,270.47 28.46,269.78 29.74,270.62" fill="none" stroke="#626262" stroke-width="0.60"/>
<polygon points="34.11,278.64 33.13,279.72 31.72,279.41 31.27,278.03 32.24,276.96 33.66,277.26" fill="none" stroke="#9a6a72" stroke-width="0.60"/>
<polygon points="50.83,267.92 49.52,268.38 48.47,267.47 48.73,266.11 50.04,265.66 51.09,266.56" fill="none" stroke="#626262" stroke-width="0.60"/>
<polygon points="43.46,287.67 42.73,288.85 41.35,288.81 40.69,287.59 41.42,286.41 42.81,286.45" fill="none" stroke="#626262" stroke-width="0.60"/>
<polygon points="22.39,269.95 20.80,270.59 19.45,269.55 19.68,267.85 21.27,267.20 22.62,268.25" fill="none" stroke="#5c5c5c" stroke-width="0.60"/>
<polygon points="40.19,272.25 38.79,273.20 37.27,272.47 37.15,270.78 38.55,269.83 40.07,270.57" fill="none" stroke="#b8868e" stroke-width="0.60"/>
<polygon points="50.75,274.33 49.89,275.63 48.33,275.53 47.64,274.14 48.50,272.84 50.05,272.93" fill="none" stroke="#848484" stroke-width="0.60"/>
<polygon points="52.14,282.74 50.55,283.06 49.48,281.84 50.00,280.30 51.59,279.98 52.66,281.20" fill="none" stroke="#626262" stroke-width="0.60"/>
<line x1="50.01" y1="270.69" x2="49.19" y2="274.23" stroke="#787878" stroke-width="0.60"/>
<line x1="50.01" y1="270.69" x2="49.78" y2="267.02" stroke="#626262" stroke-width="0.60"/>
<line x1="34.97" y1="260.64" x2="37.28" y2="256.81" stroke="#626262" stroke-width="0.60"/>
<line x1="50.23" y1="277.80" x2="49.19" y2="274.23" stroke="#626262" stroke-width="0.60"/>
<line x1="50.23" y1="277.80" x2="51.07" y2="281.52" stroke="#5c5c5c" stroke-width="0.60"/>
<line x1="28.65" y1="277.32" x2="31.40" y2="274.24" stroke="#9a6a72" stroke-width="0.60"/>
<line x1="28.65" y1="277.32" x2="32.69" y2="278.34" stroke="#b8868e" stroke-width="0.60"/>
<line x1="45.79" y1="276.05" x2="50.23" y2="277.80" stroke="#9a6a72" stroke-width="0.60"/>
<line x1="43.63" y1="290.89" x2="42.08" y2="287.63" stroke="#848484" stroke-width="0.60"/>
<line x1="43.63" y1="290.89" x2="47.87" y2="286.75" stroke="#787878" stroke-width="0.60"/>
<line x1="39.01" y1="263.57" x2="42.91" y2="263.60" stroke="#848484" stroke-width="0.60"/>
<line x1="39.01" y1="263.57" x2="41.09" y2="259.63" stroke="#a87880" stroke-width="0.60"/>
<line x1="24.31" y1="272.30" x2="20.32" y2="272.79" stroke="#787878" stroke-width="0.60"/>
<line x1="29.31" y1="263.49" x2="30.84" y2="267.97" stroke="#848484" stroke-width="0.60"/>
<line x1="37.90" y1="284.11" x2="34.55" y2="286.10" stroke="#a87880" stroke-width="0.60"/>
<line x1="30.76" y1="290.22" x2="34.84" y2="292.80" stroke="#6a6a6a" stroke-width="0.60"/>
<line x1="30.76" y1="290.22" x2="34.55" y2="286.10" stroke="#6a6a6a" stroke-width="0.60"/>
<line x1="33.11" y1="282.14" x2="34.55" y2="286.10" stroke="#b8868e" stroke-width="0.60"/>
<line x1="41.12" y1="274.51" x2="42.92" y2="271.11" stroke="#a87880" stroke-width="0.60"/>
<line x1="36.38" y1="267.92" x2="38.67" y2="271.52" stroke="#9a6a72" stroke-width="0.60"/>
<line x1="23.51" y1="281.28" x2="27.28" y2="281.74" stroke="#5c5c5c" stroke-width="0.60"/>
<line x1="23.51" y1="281.28" x2="24.35" y2="277.12" stroke="#787878" stroke-width="0.60"/>
<line x1="36.21" y1="277.32" x2="32.69" y2="278.34" stroke="#a87880" stroke-width="0.60"/>
<line x1="36.21" y1="277.32" x2="35.19" y2="273.17" stroke="#5c5c5c" stroke-width="0.60"/>
<line x1="24.36" y1="267.14" x2="21.03" y2="268.90" stroke="#787878" stroke-width="0.60"/>
<line x1="24.36" y1="267.14" x2="24.31" y2="272.30" stroke="#6a6a6a" stroke-width="0.60"/>
<line x1="29.39" y1="284.72" x2="27.28" y2="281.74" stroke="#848484" stroke-width="0.60"/>
<line x1="29.39" y1="284.72" x2="25.28" y2="285.83" stroke="#787878" stroke-width="0.60"/>
<line x1="47.02" y1="281.80" x2="51.07" y2="281.52" stroke="#5c5c5c" stroke-width="0.60"/>
<line x1="34.84" y1="292.80" x2="30.76" y2="290.22" stroke="#848484" stroke-width="0.60"/>
<line x1="34.84" y1="292.80" x2="37.80" y2="288.44" stroke="#5c5c5c" stroke-width="0.60"/>
<line x1="41.15" y1="279.98" x2="43.55" y2="284.27" stroke="#a87880" stroke-width="0.60"/>
<line x1="41.09" y1="259.63" x2="42.91" y2="263.60" stroke="#5c5c5c" stroke-width="0.60"/>
<line x1="41.09" y1="259.63" x2="39.01" y2="263.57" stroke="#5c5c5c" stroke-width="0.60"/>
<line x1="31.40" y1="274.24" x2="35.19" y2="273.17" stroke="#9a6a72" stroke-width="0.60"/>
<line x1="31.40" y1="274.24" x2="28.65" y2="277.32" stroke="#848484" stroke-width="0.60"/>
<line x1="30.84" y1="267.97" x2="33.61" y2="265.53" stroke="#626262" stroke-width="0.60"/>
<line x1="30.84" y1="267.97" x2="28.37" y2="271.31" stroke="#a87880" stroke-width="0.60"/>
<line x1="33.61" y1="265.53" x2="36.38" y2="267.92" stroke="#787878" stroke-width="0.60"/>
<line x1="33.61" y1="265.53" x2="30.84" y2="267.97" stroke="#626262" stroke-width="0.60"/>
<line x1="43.55" y1="284.27" x2="42.08" y2="287.63" stroke="#848484" stroke-width="0.60"/>
<line x1="43.55" y1="284.27" x2="47.02" y2="281.80" stroke="#787878" stroke-width="0.60"/>
<line x1="37.80" y1="288.44" x2="37.90" y2="284.11" stroke="#848484" stroke-width="0.60"/>
<line x1="24.35" y1="277.12" x2="23.51" y2="281.28" stroke="#6a6a6a" stroke-width="0.60"/>
<line x1="24.35" y1="277.12" x2="28.65" y2="277.32" stroke="#848484" stroke-width="0.60"/>
<line x1="47.63" y1="264.00" x2="49.78" y2="267.02" stroke="#6a6a6a" stroke-width="0.60"/>
<line x1="26.11" y1="260.69" x2="29.31" y2="263.49" stroke="#787878" stroke-width="0.60"/>
<line x1="42.91" y1="263.60" x2="39.01" y2="263.57" stroke="#6a6a6a" stroke-width="0.60"/>
<line x1="42.91" y1="263.60" x2="41.46" y2="267.36" stroke="#5c5c5c" stroke-width="0.60"/>
<line x1="37.28" y1="256.81" x2="34.97" y2="260.64" stroke="#787878" stroke-width="0.60"/>
<line x1="20.32" y1="272.79" x2="21.03" y2="268.90" stroke="#6a6a6a" stroke-width="0.60"/>
<line x1="20.32" y1="272.79" x2="24.31" y2="272.30" stroke="#787878" stroke-width="0.60"/>
<line x1="29.58" y1="257.88" x2="26.11" y2="260.69" stroke="#848484" stroke-width="0.60"/>
<line x1="29.58" y1="257.88" x2="29.31" y2="263.49" stroke="#848484" stroke-width="0.60"/>
<line x1="35.19" y1="273.17" x2="38.67" y2="271.52" stroke="#a87880" stroke-width="0.60"/>
<line x1="35.19" y1="273.17" x2="31.40" y2="274.24" stroke="#9a6a72" stroke-width="0.60"/>
<line x1="47.87" y1="286.75" x2="43.55" y2="284.27" stroke="#6a6a6a" stroke-width="0.60"/>
<line x1="47.87" y1="286.75" x2="47.02" y2="281.80" stroke="#626262" stroke-width="0.60"/>
<line x1="27.28" y1="281.74" x2="29.39" y2="284.72" stroke="#b8868e" stroke-width="0.60"/>
<line x1="27.28" y1="281.74" x2="23.51" y2="281.28" stroke="#9a6a72" stroke-width="0.60"/>
<line x1="42.92" y1="271.11" x2="45.60" y2="268.45" stroke="#a87880" stroke-width="0.60"/>
<line x1="42.92" y1="271.11" x2="41.12" y2="274.51" stroke="#b8868e" stroke-width="0.60"/>
<line x1="41.46" y1="267.36" x2="42.92" y2="271.11" stroke="#b8868e" stroke-width="0.60"/>
<line x1="34.55" y1="286.10" x2="37.90" y2="284.11" stroke="#6a6a6a" stroke-width="0.60"/>
<line x1="28.37" y1="271.31" x2="30.84" y2="267.97" stroke="#9a6a72" stroke-width="0.60"/>
<line x1="28.37" y1="271.31" x2="24.31" y2="272.30" stroke="#b8868e" stroke-width="0.60"/>
<line x1="32.69" y1="278.34" x2="36.21" y2="277.32" stroke="#9a6a72" stroke-width="0.60"/>
<line x1="32.69" y1="278.34" x2="33.11" y2="282.14" stroke="#9a6a72" stroke-width="0.60"/>
<line x1="49.78" y1="267.02" x2="50.01" y2="270.69" stroke="#626262" stroke-width="0.60"/>
<line x1="49.78" y1="267.02" x2="47.63" y2="264.00" stroke="#626262" stroke-width="0.60"/>
<line x1="42.08" y1="287.63" x2="43.63" y2="290.89" stroke="#848484" stroke-width="0.60"/>
<line x1="42.08" y1="287.63" x2="43.55" y2="284.27" stroke="#848484" stroke-width="0.60"/>
<line x1="21.03" y1="268.90" x2="20.32" y2="272.79" stroke="#626262" stroke-width="0.60"/>
<line x1="38.67" y1="271.52" x2="35.19" y2="273.17" stroke="#b8868e" stroke-width="0.60"/>
<line x1="38.67" y1="271.52" x2="41.12" y2="274.51" stroke="#a87880" stroke-width="0.60"/>
<line x1="49.19" y1="274.23" x2="50.01" y2="270.69" stroke="#848484" stroke-width="0.60"/>
<line x1="49.19" y1="274.23" x2="50.23" y2="277.80" stroke="#626262" stroke-width="0.60"/>
<line x1="51.07" y1="281.52" x2="50.23" y2="277.80" stroke="#848484" stroke-width="0.60"/>
<line x1="51.07" y1="281.52" x2="47.02" y2="281.80" stroke="#848484" stroke-width="0.60"/>
<line x1="28.21" y1="290.00" x2="26.65" y2="291.90" stroke="#5c5c5c" stroke-width="0.70"/>
<line x1="26.65" y1="291.90" x2="25.06" y2="291.73" stroke="#5c5c5c" stroke-width="0.70"/>
<line x1="26.65" y1="291.90" x2="26.87" y2="293.48" stroke="#5c5c5c" stroke-width="0.70"/>
<line x1="23.82" y1="260.83" x2="22.72" y2="259.06" stroke="#787878" stroke-width="0.70"/>
<line x1="51.42" y1="266.18" x2="53.67" y2="264.84" stroke="#5c5c5c" stroke-width="0.70"/>
<line x1="42.24" y1="293.47" x2="42.09" y2="296.18" stroke="#787878" stroke-width="0.70"/>
<line x1="42.09" y1="296.18" x2="40.67" y2="296.92" stroke="#787878" stroke-width="0.70"/>
<line x1="42.09" y1="296.18" x2="40.55" y2="296.63" stroke="#787878" stroke-width="0.70"/>
<line x1="18.94" y1="265.35" x2="18.10" y2="263.83" stroke="#787878" stroke-width="0.70"/>
<line x1="18.10" y1="263.83" x2="19.08" y2="262.57" stroke="#787878" stroke-width="0.70"/>
<line x1="18.10" y1="263.83" x2="19.15" y2="262.62" stroke="#787878" stroke-width="0.70"/>
<line x1="52.48" y1="273.25" x2="55.02" y2="272.52" stroke="#5c5c5c" stroke-width="0.70"/>
<line x1="55.02" y1="272.52" x2="55.41" y2="270.97" stroke="#5c5c5c" stroke-width="0.70"/>
<line x1="55.02" y1="272.52" x2="56.37" y2="273.36" stroke="#5c5c5c" stroke-width="0.70"/>
<line x1="19.75" y1="280.14" x2="17.22" y2="281.28" stroke="#6a6a6a" stroke-width="0.70"/>
<line x1="47.04" y1="287.53" x2="48.40" y2="288.38" stroke="#848484" stroke-width="0.70"/>
<line x1="49.60" y1="286.93" x2="51.79" y2="287.64" stroke="#848484" stroke-width="0.70"/>
<line x1="51.79" y1="287.64" x2="51.82" y2="289.24" stroke="#848484" stroke-width="0.70"/>
<line x1="51.79" y1="287.64" x2="52.13" y2="289.21" stroke="#848484" stroke-width="0.70"/>
<line x1="25.30" y1="259.00" x2="22.57" y2="257.77" stroke="#787878" stroke-width="0.70"/>
<line x1="22.57" y1="257.77" x2="21.43" y2="258.90" stroke="#787878" stroke-width="0.70"/>
<line x1="22.57" y1="257.77" x2="22.62" y2="256.17" stroke="#787878" stroke-width="0.70"/>
<line x1="34.12" y1="292.67" x2="33.88" y2="294.89" stroke="#6a6a6a" stroke-width="0.70"/>
<line x1="33.88" y1="294.89" x2="35.20" y2="295.79" stroke="#6a6a6a" stroke-width="0.70"/>
<line x1="33.88" y1="294.89" x2="32.43" y2="295.56" stroke="#6a6a6a" stroke-width="0.70"/>
<line x1="19.51" y1="269.05" x2="17.13" y2="268.26" stroke="#6a6a6a" stroke-width="0.70"/>
<line x1="17.13" y1="268.26" x2="17.08" y2="266.66" stroke="#6a6a6a" stroke-width="0.70"/>
<line x1="17.13" y1="268.26" x2="16.96" y2="266.67" stroke="#6a6a6a" stroke-width="0.70"/>
<line x1="16.55" y1="275.91" x2="14.53" y2="276.50" stroke="#6a6a6a" stroke-width="0.70"/>
<line x1="53.73" y1="264.45" x2="55.61" y2="261.86" stroke="#626262" stroke-width="0.70"/>
<line x1="33.66" y1="294.86" x2="34.23" y2="297.09" stroke="#848484" stroke-width="0.70"/>
<line x1="34.23" y1="297.09" x2="35.77" y2="297.53" stroke="#848484" stroke-width="0.70"/>
<line x1="34.23" y1="297.09" x2="35.62" y2="297.88" stroke="#848484" stroke-width="0.70"/>
<line x1="31.10" y1="255.63" x2="29.54" y2="253.08" stroke="#5c5c5c" stroke-width="0.70"/>
<line x1="29.54" y1="253.08" x2="27.99" y2="253.49" stroke="#5c5c5c" stroke-width="0.70"/>
<line x1="29.54" y1="253.08" x2="30.41" y2="251.73" stroke="#5c5c5c" stroke-width="0.70"/>
<line x1="53.33" y1="282.45" x2="56.06" y2="281.97" stroke="#5c5c5c" stroke-width="0.70"/>
<line x1="56.06" y1="281.97" x2="56.88" y2="283.34" stroke="#5c5c5c" stroke-width="0.70"/>
<line x1="56.06" y1="281.97" x2="57.01" y2="283.25" stroke="#5c5c5c" stroke-width="0.70"/>
<line x1="51.03" y1="263.32" x2="51.49" y2="261.70" stroke="#626262" stroke-width="0.70"/>
<line x1="49.47" y1="265.09" x2="51.82" y2="263.82" stroke="#6a6a6a" stroke-width="0.70"/>
<line x1="36.53" y1="293.57" x2="36.07" y2="295.83" stroke="#6a6a6a" stroke-width="0.70"/>
<line x1="45.69" y1="287.83" x2="46.88" y2="290.32" stroke="#626262" stroke-width="0.70"/>
<line x1="24.97" y1="289.80" x2="23.05" y2="290.88" stroke="#848484" stroke-width="0.70"/>
<line x1="40.38" y1="258.55" x2="41.53" y2="256.52" stroke="#626262" stroke-width="0.70"/>
<line x1="40.31" y1="293.16" x2="40.91" y2="295.77" stroke="#6a6a6a" stroke-width="0.70"/>
<line x1="47.77" y1="257.77" x2="48.69" y2="255.40" stroke="#626262" stroke-width="0.70"/>
<line x1="48.69" y1="255.40" x2="50.19" y2="254.85" stroke="#626262" stroke-width="0.70"/>
<line x1="48.69" y1="255.40" x2="47.95" y2="253.98" stroke="#626262" stroke-width="0.70"/>
<line x1="28.86" y1="257.90" x2="26.66" y2="256.59" stroke="#6a6a6a" stroke-width="0.70"/>
<line x1="26.66" y1="256.59" x2="25.32" y2="257.47" stroke="#6a6a6a" stroke-width="0.70"/>
<line x1="26.66" y1="256.59" x2="26.89" y2="255.01" stroke="#6a6a6a" stroke-width="0.70"/>
<line x1="41.60" y1="290.06" x2="40.79" y2="292.70" stroke="#6a6a6a" stroke-width="0.70"/>
<line x1="40.79" y1="292.70" x2="39.19" y2="292.81" stroke="#6a6a6a" stroke-width="0.70"/>
<line x1="40.79" y1="292.70" x2="39.23" y2="293.08" stroke="#6a6a6a" stroke-width="0.70"/>
<line x1="51.52" y1="262.18" x2="53.89" y2="260.25" stroke="#787878" stroke-width="0.70"/>
<line x1="35.70" y1="255.38" x2="34.53" y2="252.55" stroke="#848484" stroke-width="0.70"/>
<line x1="34.53" y1="252.55" x2="32.93" y2="252.49" stroke="#848484" stroke-width="0.70"/>
<line x1="34.53" y1="252.55" x2="32.94" y2="252.69" stroke="#848484" stroke-width="0.70"/>
<line x1="47.39" y1="287.10" x2="48.30" y2="288.30" stroke="#5c5c5c" stroke-width="0.70"/>
<line x1="28.24" y1="256.24" x2="27.14" y2="254.40" stroke="#848484" stroke-width="0.70"/>
<line x1="27.14" y1="254.40" x2="27.62" y2="252.87" stroke="#848484" stroke-width="0.70"/>
<line x1="27.14" y1="254.40" x2="25.57" y2="254.70" stroke="#848484" stroke-width="0.70"/>
<line x1="51.73" y1="281.89" x2="53.66" y2="282.12" stroke="#787878" stroke-width="0.70"/>
<line x1="53.66" y1="282.12" x2="54.27" y2="283.60" stroke="#787878" stroke-width="0.70"/>
<line x1="53.66" y1="282.12" x2="54.48" y2="283.49" stroke="#787878" stroke-width="0.70"/>
<line x1="49.15" y1="261.73" x2="51.78" y2="260.73" stroke="#787878" stroke-width="0.70"/>
<line x1="51.78" y1="260.73" x2="52.86" y2="261.91" stroke="#787878" stroke-width="0.70"/>
<line x1="51.78" y1="260.73" x2="51.99" y2="259.14" stroke="#787878" stroke-width="0.70"/>
<line x1="28.90" y1="289.55" x2="29.19" y2="291.97" stroke="#848484" stroke-width="0.70"/>
<line x1="29.19" y1="291.97" x2="27.86" y2="292.86" stroke="#848484" stroke-width="0.70"/>
<line x1="29.19" y1="291.97" x2="30.58" y2="292.76" stroke="#848484" stroke-width="0.70"/>
<line x1="35.41" y1="294.76" x2="34.85" y2="297.08" stroke="#5c5c5c" stroke-width="0.70"/>
<line x1="34.85" y1="297.08" x2="35.72" y2="298.42" stroke="#5c5c5c" stroke-width="0.70"/>
<line x1="34.85" y1="297.08" x2="33.42" y2="297.80" stroke="#5c5c5c" stroke-width="0.70"/>
<line x1="40.08" y1="257.61" x2="39.33" y2="256.02" stroke="#787878" stroke-width="0.70"/>
<line x1="32.81" y1="294.68" x2="32.71" y2="296.33" stroke="#848484" stroke-width="0.70"/>
<line x1="32.71" y1="296.33" x2="31.24" y2="296.97" stroke="#848484" stroke-width="0.70"/>
<line x1="32.71" y1="296.33" x2="34.10" y2="297.12" stroke="#848484" stroke-width="0.70"/>
<line x1="20.48" y1="263.36" x2="18.34" y2="261.99" stroke="#787878" stroke-width="0.70"/>
<line x1="18.34" y1="261.99" x2="16.83" y2="262.52" stroke="#787878" stroke-width="0.70"/>
<line x1="18.34" y1="261.99" x2="18.07" y2="260.41" stroke="#787878" stroke-width="0.70"/>
<line x1="25.19" y1="286.56" x2="23.48" y2="288.93" stroke="#6a6a6a" stroke-width="0.70"/>
<line x1="23.48" y1="288.93" x2="21.88" y2="288.94" stroke="#6a6a6a" stroke-width="0.70"/>
<line x1="23.48" y1="288.93" x2="23.91" y2="290.47" stroke="#6a6a6a" stroke-width="0.70"/>
<line x1="42.34" y1="257.69" x2="42.36" y2="255.49" stroke="#848484" stroke-width="0.70"/>
<line x1="21.37" y1="289.51" x2="23.58" y2="290.27" stroke="#848484" stroke-width="0.77"/>
<line x1="16.05" y1="268.62" x2="16.70" y2="270.79" stroke="#626262" stroke-width="0.59"/>
<line x1="30.76" y1="294.50" x2="29.65" y2="292.66" stroke="#626262" stroke-width="0.76"/>
<line x1="27.92" y1="262.30" x2="28.14" y2="260.34" stroke="#5c5c5c" stroke-width="0.60"/>
<line x1="35.95" y1="262.36" x2="34.50" y2="261.23" stroke="#626262" stroke-width="0.65"/>
<line x1="49.15" y1="258.72" x2="52.01" y2="260.44" stroke="#5c5c5c" stroke-width="0.71"/>
<line x1="46.99" y1="285.58" x2="46.67" y2="287.19" stroke="#848484" stroke-width="0.79"/>
<line x1="47.24" y1="270.42" x2="48.47" y2="271.40" stroke="#5c5c5c" stroke-width="0.62"/>
<line x1="52.14" y1="260.62" x2="51.96" y2="262.85" stroke="#787878" stroke-width="0.72"/>
<line x1="40.43" y1="254.54" x2="39.83" y2="256.79" stroke="#848484" stroke-width="0.73"/>
<line x1="25.70" y1="256.78" x2="27.67" y2="258.32" stroke="#848484" stroke-width="0.68"/>
<line x1="30.56" y1="270.67" x2="28.06" y2="272.13" stroke="#9a6a72" stroke-width="0.60"/>
<line x1="17.88" y1="271.81" x2="18.23" y2="274.08" stroke="#848484" stroke-width="0.56"/>
<line x1="35.36" y1="262.07" x2="34.69" y2="265.37" stroke="#626262" stroke-width="0.73"/>
<line x1="40.78" y1="291.08" x2="38.36" y2="292.54" stroke="#626262" stroke-width="0.60"/>
<line x1="51.67" y1="272.98" x2="53.48" y2="270.12" stroke="#787878" stroke-width="0.63"/>
<line x1="38.32" y1="292.19" x2="35.62" y2="292.93" stroke="#848484" stroke-width="0.69"/>
<line x1="33.50" y1="286.61" x2="36.46" y2="285.18" stroke="#626262" stroke-width="0.71"/>
<line x1="21.09" y1="280.33" x2="20.93" y2="276.84" stroke="#5c5c5c" stroke-width="0.67"/>
<line x1="34.96" y1="266.21" x2="38.40" y2="265.79" stroke="#9a6a72" stroke-width="0.68"/>
<line x1="27.10" y1="273.12" x2="26.44" y2="274.88" stroke="#a87880" stroke-width="0.58"/>
<line x1="22.01" y1="278.12" x2="24.05" y2="278.10" stroke="#848484" stroke-width="0.68"/>
<line x1="48.48" y1="281.85" x2="51.13" y2="281.03" stroke="#5c5c5c" stroke-width="0.78"/>
<line x1="50.68" y1="266.00" x2="48.95" y2="266.73" stroke="#6a6a6a" stroke-width="0.66"/>
<line x1="29.44" y1="291.20" x2="32.31" y2="291.28" stroke="#5c5c5c" stroke-width="0.65"/>
<line x1="26.21" y1="282.82" x2="24.03" y2="283.14" stroke="#626262" stroke-width="0.74"/>
<line x1="40.36" y1="264.98" x2="39.35" y2="262.62" stroke="#b8868e" stroke-width="0.58"/>
<line x1="26.37" y1="258.55" x2="26.99" y2="260.38" stroke="#5c5c5c" stroke-width="0.60"/>
<line x1="41.20" y1="259.29" x2="42.86" y2="260.68" stroke="#848484" stroke-width="0.77"/>
<line x1="38.75" y1="263.85" x2="38.66" y2="261.04" stroke="#9a6a72" stroke-width="0.68"/>
<line x1="49.71" y1="266.16" x2="48.67" y2="264.97" stroke="#787878" stroke-width="0.76"/>
<line x1="28.49" y1="279.81" x2="30.15" y2="277.86" stroke="#9a6a72" stroke-width="0.77"/>
<line x1="43.21" y1="268.56" x2="41.13" y2="266.51" stroke="#626262" stroke-width="0.60"/>
<line x1="50.48" y1="274.48" x2="47.05" y2="274.25" stroke="#787878" stroke-width="0.66"/>
<line x1="38.51" y1="283.45" x2="37.87" y2="281.61" stroke="#a87880" stroke-width="0.75"/>
<line x1="25.27" y1="257.18" x2="22.73" y2="258.35" stroke="#626262" stroke-width="0.75"/>
<line x1="31.13" y1="254.77" x2="29.82" y2="256.10" stroke="#787878" stroke-width="0.65"/>
<line x1="42.79" y1="290.86" x2="41.35" y2="288.77" stroke="#848484" stroke-width="0.68"/>
<line x1="33.91" y1="255.20" x2="32.34" y2="257.25" stroke="#626262" stroke-width="0.56"/>
<line x1="44.92" y1="267.78" x2="45.54" y2="265.06" stroke="#b8868e" stroke-width="0.75"/>
<line x1="26.38" y1="260.66" x2="28.56" y2="262.11" stroke="#6a6a6a" stroke-width="0.62"/>
<line x1="45.03" y1="278.50" x2="48.33" y2="278.52" stroke="#787878" stroke-width="0.57"/>
<line x1="38.59" y1="255.52" x2="39.70" y2="253.54" stroke="#787878" stroke-width="0.75"/>
<line x1="34.34" y1="294.34" x2="36.78" y2="293.88" stroke="#6a6a6a" stroke-width="0.57"/>
<line x1="19.07" y1="280.10" x2="17.48" y2="277.45" stroke="#848484" stroke-width="0.61"/>
<line x1="46.47" y1="267.51" x2="44.85" y2="268.09" stroke="#848484" stroke-width="0.76"/>
<line x1="20.96" y1="274.31" x2="19.53" y2="274.84" stroke="#626262" stroke-width="0.73"/>
<line x1="46.99" y1="287.08" x2="47.02" y2="285.00" stroke="#787878" stroke-width="0.66"/>
<line x1="17.51" y1="268.91" x2="20.87" y2="268.90" stroke="#787878" stroke-width="0.70"/>
<line x1="42.57" y1="292.93" x2="45.35" y2="291.04" stroke="#626262" stroke-width="0.79"/></g>
<g><polygon points="574.78,68.89 573.41,69.54 572.16,68.68 572.28,67.16 573.65,66.51 574.90,67.37" fill="none" stroke="#626262" stroke-width="0.60"/>
<polygon points="576.00,55.64 574.79,56.87 573.12,56.42 572.66,54.76 573.88,53.53 575.55,53.98" fill="none" stroke="#9a6a72" stroke-width="0.60"/>
<polygon points="557.98,58.32 556.54,58.94 555.28,58.00 555.47,56.45 556.90,55.83 558.16,56.76" fill="none" stroke="#6a6a6a" stroke-width="0.60"/>
<polygon points="574.96,62.34 573.56,63.42 571.93,62.74 571.69,60.99 573.09,59.91 574.73,60.59" fill="none" stroke="#a87880" stroke-width="0.60"/>
<polygon points="582.40,69.32 581.08,69.68 580.11,68.72 580.46,67.39 581.78,67.03 582.75,67.99" fill="none" stroke="#787878" stroke-width="0.60"/>
<polygon points="583.85,45.82 582.44,46.89 580.82,46.21 580.59,44.46 581.99,43.39 583.62,44.07" fill="none" stroke="#626262" stroke-width="0.60"/>
<polygon points="577.47,51.28 576.52,52.33 575.14,52.02 574.71,50.68 575.66,49.63 577.04,49.94" fill="none" stroke="#848484" stroke-width="0.60"/>
<polygon points="576.12,41.48 574.62,41.81 573.58,40.67 574.05,39.20 575.56,38.88 576.59,40.02" fill="none" stroke="#626262" stroke-width="0.60"/>
<polygon points="565.76,66.19 564.16,66.42 563.17,65.15 563.77,63.65 565.36,63.42 566.36,64.69" fill="none" stroke="#5c5c5c" stroke-width="0.60"/>
<polygon points="584.62,41.38 583.58,42.66 581.95,42.39 581.36,40.85 582.41,39.57 584.04,39.84" fill="none" stroke="#787878" stroke-width="0.60"/>
<polygon points="589.76,51.83 588.24,52.35 587.03,51.30 587.33,49.72 588.85,49.20 590.06,50.25" fill="none" stroke="#6a6a6a" stroke-width="0.60"/>
<polygon points="561.72,41.05 560.83,42.22 559.38,42.04 558.80,40.69 559.69,39.52 561.15,39.70" fill="none" stroke="#848484" stroke-width="0.60"/>
<polygon points="588.57,63.67 587.61,64.87 586.09,64.64 585.53,63.21 586.49,62.01 588.01,62.25" fill="none" stroke="#787878" stroke-width="0.60"/>
<polygon points="565.20,59.36 563.93,59.96 562.78,59.16 562.89,57.77 564.16,57.17 565.32,57.96" fill="none" stroke="#848484" stroke-width="0.60"/>
<polygon points="571.33,45.19 569.59,45.31 568.62,43.86 569.39,42.29 571.13,42.18 572.10,43.63" fill="none" stroke="#a87880" stroke-width="0.60"/>
<polygon points="572.55,58.43 571.70,59.81 570.08,59.76 569.31,58.33 570.17,56.95 571.79,57.00" fill="none" stroke="#b8868e" stroke-width="0.60"/>
<polygon points="567.47,38.74 566.30,39.70 564.90,39.17 564.65,37.68 565.82,36.73 567.22,37.26" fill="none" stroke="#6a6a6a" stroke-width="0.60"/>
<polygon points="581.06,49.70 579.71,50.48 578.36,49.71 578.36,48.15 579.70,47.37 581.05,48.14" fill="none" stroke="#626262" stroke-width="0.60"/>
<polygon points="571.42,50.71 569.68,51.13 568.45,49.83 568.96,48.11 570.70,47.70 571.93,48.99" fill="none" stroke="#9a6a72" stroke-width="0.60"/>
<polygon points="569.13,69.41 567.74,70.17 566.39,69.35 566.43,67.76 567.82,67.00 569.17,67.83" fill="none" stroke="#5c5c5c" stroke-width="0.60"/>
<polygon points="570.29,63.44 569.30,64.72 567.70,64.50 567.09,63.01 568.07,61.73 569.68,61.95" fill="none" stroke="#787878" stroke-width="0.60"/>
<polygon points="587.25,60.05 586.00,61.33 584.27,60.88 583.79,59.17 585.04,57.89 586.77,58.34" fill="none" stroke="#848484" stroke-width="0.60"/>
<polygon points="582.93,64.43 581.76,65.59 580.18,65.15 579.76,63.56 580.94,62.40 582.52,62.84" fill="none" stroke="#787878" stroke-width="0.60"/>
<polygon points="578.57,65.21 577.60,66.56 575.94,66.39 575.26,64.88 576.24,63.53 577.89,63.70" fill="none" stroke="#b8868e" stroke-width="0.60"/>
<polygon points="558.44,47.84 556.97,48.17 555.96,47.06 556.41,45.63 557.87,45.30 558.89,46.41" fill="none" stroke="#5c5c5c" stroke-width="0.60"/>
<polygon points="576.96,46.38 575.93,47.35 574.58,46.94 574.26,45.57 575.28,44.61 576.63,45.01" fill="none" stroke="#787878" stroke-width="0.60"/>
<polygon points="583.81,57.34 582.60,58.12 581.32,57.46 581.26,56.02 582.47,55.24 583.75,55.90" fill="none" stroke="#626262" stroke-width="0.60"/>
<polygon points="585.22,54.86 583.46,55.07 582.39,53.65 583.09,52.02 584.85,51.80 585.92,53.23" fill="none" stroke="#9a6a72" stroke-width="0.60"/>
<polygon points="573.29,38.11 571.71,38.36 570.71,37.12 571.28,35.63 572.85,35.38 573.86,36.62" fill="none" stroke="#5c5c5c" stroke-width="0.60"/>
<polygon points="580.35,61.87 579.03,62.20 578.08,61.21 578.46,59.90 579.78,59.57 580.73,60.55" fill="none" stroke="#a87880" stroke-width="0.60"/>
<polygon points="572.30,53.71 571.22,55.00 569.56,54.72 568.98,53.13 570.06,51.84 571.72,52.13" fill="none" stroke="#9a6a72" stroke-width="0.60"/>
<polygon points="563.93,49.94 562.75,51.15 561.11,50.74 560.65,49.11 561.83,47.90 563.47,48.32" fill="none" stroke="#626262" stroke-width="0.60"/>
<polygon points="579.49,56.50 578.70,57.67 577.30,57.57 576.68,56.31 577.47,55.14 578.87,55.24" fill="none" stroke="#5c5c5c" stroke-width="0.60"/>
<polygon points="562.39,53.38 561.60,54.56 560.18,54.46 559.56,53.18 560.36,52.00 561.77,52.10" fill="none" stroke="#b8868e" stroke-width="0.60"/>
<polygon points="561.95,61.18 560.56,62.29 558.91,61.64 558.65,59.89 560.03,58.78 561.68,59.43" fill="none" stroke="#626262" stroke-width="0.60"/>
<polygon points="567.95,56.81 566.36,57.45 565.00,56.40 565.24,54.70 566.83,54.05 568.18,55.11" fill="none" stroke="#848484" stroke-width="0.60"/>
<polygon points="566.95,42.02 566.01,43.32 564.41,43.16 563.76,41.69 564.70,40.40 566.29,40.56" fill="none" stroke="#626262" stroke-width="0.60"/>
<polygon points="568.51,46.24 567.20,47.35 565.58,46.78 565.27,45.09 566.58,43.97 568.20,44.55" fill="none" stroke="#5c5c5c" stroke-width="0.60"/>
<polygon points="586.95,67.67 585.88,68.59 584.54,68.13 584.27,66.75 585.34,65.82 586.68,66.28" fill="none" stroke="#626262" stroke-width="0.60"/>
<polygon points="558.66,53.74 557.19,54.74 555.59,53.97 555.46,52.20 556.93,51.20 558.53,51.97" fill="none" stroke="#5c5c5c" stroke-width="0.60"/>
<polygon points="567.81,50.66 566.80,51.81 565.30,51.52 564.81,50.07 565.81,48.92 567.31,49.21" fill="none" stroke="#9a6a72" stroke-width="0.60"/>
<polygon points="578.55,70.66 577.14,70.99 576.15,69.94 576.56,68.56 577.97,68.22 578.96,69.27" fill="none" stroke="#848484" stroke-width="0.60"/>
<polygon points="564.00,45.17 563.19,46.52 561.62,46.49 560.85,45.11 561.67,43.76 563.24,43.79" fill="none" stroke="#787878" stroke-width="0.60"/>
<polygon points="585.17,49.49 583.89,50.58 582.30,50.01 582.00,48.36 583.29,47.27 584.87,47.83" fill="none" stroke="#6a6a6a" stroke-width="0.60"/>
<polygon points="581.66,53.29 580.49,54.05 579.25,53.41 579.19,52.02 580.36,51.27 581.59,51.90" fill="none" stroke="#9a6a72" stroke-width="0.60"/>
<polygon points="565.29,68.80 564.47,70.05 562.98,69.96 562.31,68.63 563.12,67.38 564.61,67.47" fill="none" stroke="#848484" stroke-width="0.60"/>
<polygon points="579.87,44.19 578.30,44.65 577.12,43.52 577.50,41.92 579.07,41.46 580.26,42.59" fill="none" stroke="#787878" stroke-width="0.60"/>
<polygon points="589.00,57.60 587.65,57.69 586.91,56.56 587.51,55.35 588.85,55.27 589.60,56.39" fill="none" stroke="#848484" stroke-width="0.60"/>
<polygon points="571.73,40.13 570.67,41.42 569.03,41.14 568.45,39.58 569.51,38.30 571.15,38.57" fill="none" stroke="#6a6a6a" stroke-width="0.60"/>
<polygon points="569.18,59.93 568.25,61.21 566.68,61.05 566.03,59.61 566.95,58.32 568.53,58.48" fill="none" stroke="#b8868e" stroke-width="0.60"/>
<polygon points="573.22,72.82 571.87,73.13 570.92,72.12 571.32,70.80 572.67,70.48 573.62,71.49" fill="none" stroke="#626262" stroke-width="0.60"/>
<polygon points="562.48,66.87 561.16,67.61 559.85,66.83 559.88,65.32 561.20,64.58 562.50,65.35" fill="none" stroke="#787878" stroke-width="0.60"/>
<polygon points="558.51,43.44 557.32,44.61 555.71,44.17 555.30,42.55 556.49,41.38 558.09,41.83" fill="none" stroke="#848484" stroke-width="0.60"/>
<line x1="573.53" y1="68.03" x2="572.27" y2="71.81" stroke="#848484" stroke-width="0.60"/>
<line x1="573.53" y1="68.03" x2="577.56" y2="69.61" stroke="#5c5c5c" stroke-width="0.60"/>
<line x1="574.33" y1="55.20" x2="578.09" y2="56.40" stroke="#787878" stroke-width="0.60"/>
<line x1="556.72" y1="57.38" x2="557.06" y2="52.97" stroke="#626262" stroke-width="0.60"/>
<line x1="556.72" y1="57.38" x2="560.30" y2="60.54" stroke="#787878" stroke-width="0.60"/>
<line x1="573.33" y1="61.67" x2="570.93" y2="58.38" stroke="#b8868e" stroke-width="0.60"/>
<line x1="573.33" y1="61.67" x2="568.69" y2="63.23" stroke="#9a6a72" stroke-width="0.60"/>
<line x1="581.43" y1="68.36" x2="577.56" y2="69.61" stroke="#626262" stroke-width="0.60"/>
<line x1="581.43" y1="68.36" x2="585.61" y2="67.21" stroke="#848484" stroke-width="0.60"/>
<line x1="582.22" y1="45.14" x2="583.59" y2="48.92" stroke="#626262" stroke-width="0.60"/>
<line x1="582.22" y1="45.14" x2="582.99" y2="41.11" stroke="#626262" stroke-width="0.60"/>
<line x1="576.09" y1="50.98" x2="579.71" y2="48.93" stroke="#b8868e" stroke-width="0.60"/>
<line x1="575.09" y1="40.34" x2="572.28" y2="36.87" stroke="#6a6a6a" stroke-width="0.60"/>
<line x1="575.09" y1="40.34" x2="578.69" y2="43.06" stroke="#6a6a6a" stroke-width="0.60"/>
<line x1="564.76" y1="64.92" x2="563.80" y2="68.71" stroke="#848484" stroke-width="0.60"/>
<line x1="582.99" y1="41.11" x2="582.22" y2="45.14" stroke="#787878" stroke-width="0.60"/>
<line x1="582.99" y1="41.11" x2="578.69" y2="43.06" stroke="#787878" stroke-width="0.60"/>
<line x1="588.54" y1="50.78" x2="584.16" y2="53.44" stroke="#848484" stroke-width="0.60"/>
<line x1="588.54" y1="50.78" x2="583.59" y2="48.92" stroke="#848484" stroke-width="0.60"/>
<line x1="564.05" y1="58.56" x2="566.59" y2="55.75" stroke="#b8868e" stroke-width="0.60"/>
<line x1="570.36" y1="43.74" x2="570.09" y2="39.86" stroke="#6a6a6a" stroke-width="0.60"/>
<line x1="570.36" y1="43.74" x2="566.89" y2="45.66" stroke="#9a6a72" stroke-width="0.60"/>
<line x1="570.93" y1="58.38" x2="567.60" y2="59.77" stroke="#9a6a72" stroke-width="0.60"/>
<line x1="566.06" y1="38.21" x2="570.09" y2="39.86" stroke="#848484" stroke-width="0.60"/>
<line x1="579.71" y1="48.93" x2="583.59" y2="48.92" stroke="#626262" stroke-width="0.60"/>
<line x1="570.19" y1="49.41" x2="566.31" y2="50.37" stroke="#b8868e" stroke-width="0.60"/>
<line x1="570.19" y1="49.41" x2="570.64" y2="53.42" stroke="#9a6a72" stroke-width="0.60"/>
<line x1="567.78" y1="68.59" x2="563.80" y2="68.71" stroke="#787878" stroke-width="0.60"/>
<line x1="568.69" y1="63.23" x2="567.60" y2="59.77" stroke="#848484" stroke-width="0.60"/>
<line x1="568.69" y1="63.23" x2="564.76" y2="64.92" stroke="#626262" stroke-width="0.60"/>
<line x1="585.52" y1="59.61" x2="587.05" y2="63.44" stroke="#6a6a6a" stroke-width="0.60"/>
<line x1="581.35" y1="63.99" x2="581.43" y2="68.36" stroke="#5c5c5c" stroke-width="0.60"/>
<line x1="576.92" y1="65.05" x2="573.53" y2="68.03" stroke="#9a6a72" stroke-width="0.60"/>
<line x1="576.92" y1="65.05" x2="581.35" y2="63.99" stroke="#a87880" stroke-width="0.60"/>
<line x1="557.42" y1="46.74" x2="556.90" y2="43.00" stroke="#626262" stroke-width="0.60"/>
<line x1="557.42" y1="46.74" x2="562.43" y2="45.14" stroke="#848484" stroke-width="0.60"/>
<line x1="575.61" y1="45.98" x2="578.69" y2="43.06" stroke="#a87880" stroke-width="0.60"/>
<line x1="575.61" y1="45.98" x2="576.09" y2="50.98" stroke="#9a6a72" stroke-width="0.60"/>
<line x1="582.53" y1="56.68" x2="584.16" y2="53.44" stroke="#5c5c5c" stroke-width="0.60"/>
<line x1="582.53" y1="56.68" x2="585.52" y2="59.61" stroke="#848484" stroke-width="0.60"/>
<line x1="584.16" y1="53.44" x2="582.53" y2="56.68" stroke="#626262" stroke-width="0.60"/>
<line x1="584.16" y1="53.44" x2="580.42" y2="52.66" stroke="#9a6a72" stroke-width="0.60"/>
<line x1="572.28" y1="36.87" x2="570.09" y2="39.86" stroke="#848484" stroke-width="0.60"/>
<line x1="572.28" y1="36.87" x2="575.09" y2="40.34" stroke="#626262" stroke-width="0.60"/>
<line x1="579.41" y1="60.88" x2="581.35" y2="63.99" stroke="#b8868e" stroke-width="0.60"/>
<line x1="570.64" y1="53.42" x2="570.19" y2="49.41" stroke="#6a6a6a" stroke-width="0.60"/>
<line x1="570.64" y1="53.42" x2="574.33" y2="55.20" stroke="#5c5c5c" stroke-width="0.60"/>
<line x1="562.29" y1="49.53" x2="560.98" y2="53.28" stroke="#a87880" stroke-width="0.60"/>
<line x1="578.09" y1="56.40" x2="574.33" y2="55.20" stroke="#626262" stroke-width="0.60"/>
<line x1="578.09" y1="56.40" x2="580.42" y2="52.66" stroke="#a87880" stroke-width="0.60"/>
<line x1="560.98" y1="53.28" x2="562.29" y2="49.53" stroke="#a87880" stroke-width="0.60"/>
<line x1="560.30" y1="60.54" x2="564.05" y2="58.56" stroke="#6a6a6a" stroke-width="0.60"/>
<line x1="560.30" y1="60.54" x2="556.72" y2="57.38" stroke="#6a6a6a" stroke-width="0.60"/>
<line x1="566.59" y1="55.75" x2="567.60" y2="59.77" stroke="#9a6a72" stroke-width="0.60"/>
<line x1="565.35" y1="41.86" x2="566.06" y2="38.21" stroke="#787878" stroke-width="0.60"/>
<line x1="565.35" y1="41.86" x2="566.89" y2="45.66" stroke="#6a6a6a" stroke-width="0.60"/>
<line x1="566.89" y1="45.66" x2="570.36" y2="43.74" stroke="#787878" stroke-width="0.60"/>
<line x1="566.89" y1="45.66" x2="565.35" y2="41.86" stroke="#5c5c5c" stroke-width="0.60"/>
<line x1="585.61" y1="67.21" x2="587.05" y2="63.44" stroke="#5c5c5c" stroke-width="0.60"/>
<line x1="557.06" y1="52.97" x2="560.98" y2="53.28" stroke="#626262" stroke-width="0.60"/>
<line x1="566.31" y1="50.37" x2="562.29" y2="49.53" stroke="#b8868e" stroke-width="0.60"/>
<line x1="562.43" y1="45.14" x2="562.29" y2="49.53" stroke="#787878" stroke-width="0.60"/>
<line x1="583.59" y1="48.92" x2="579.71" y2="48.93" stroke="#6a6a6a" stroke-width="0.60"/>
<line x1="583.59" y1="48.92" x2="582.22" y2="45.14" stroke="#5c5c5c" stroke-width="0.60"/>
<line x1="580.42" y1="52.66" x2="584.16" y2="53.44" stroke="#626262" stroke-width="0.60"/>
<line x1="563.80" y1="68.71" x2="561.18" y2="66.09" stroke="#6a6a6a" stroke-width="0.60"/>
<line x1="578.69" y1="43.06" x2="582.22" y2="45.14" stroke="#787878" stroke-width="0.60"/>
<line x1="578.69" y1="43.06" x2="575.61" y2="45.98" stroke="#6a6a6a" stroke-width="0.60"/>
<line x1="588.25" y1="56.48" x2="585.52" y2="59.61" stroke="#787878" stroke-width="0.60"/>
<line x1="570.09" y1="39.86" x2="572.28" y2="36.87" stroke="#787878" stroke-width="0.60"/>
<line x1="570.09" y1="39.86" x2="570.36" y2="43.74" stroke="#787878" stroke-width="0.60"/>
<line x1="567.60" y1="59.77" x2="570.93" y2="58.38" stroke="#b8868e" stroke-width="0.60"/>
<line x1="567.60" y1="59.77" x2="568.69" y2="63.23" stroke="#a87880" stroke-width="0.60"/>
<line x1="572.27" y1="71.81" x2="573.53" y2="68.03" stroke="#6a6a6a" stroke-width="0.60"/>
<line x1="572.27" y1="71.81" x2="567.78" y2="68.59" stroke="#626262" stroke-width="0.60"/>
<line x1="561.18" y1="66.09" x2="563.80" y2="68.71" stroke="#848484" stroke-width="0.60"/>
<line x1="561.18" y1="66.09" x2="564.76" y2="64.92" stroke="#848484" stroke-width="0.60"/>
<line x1="556.90" y1="43.00" x2="557.42" y2="46.74" stroke="#6a6a6a" stroke-width="0.60"/>
<line x1="577.20" y1="38.07" x2="577.74" y2="36.56" stroke="#5c5c5c" stroke-width="0.70"/>
<line x1="577.74" y1="36.56" x2="576.50" y2="35.54" stroke="#5c5c5c" stroke-width="0.70"/>
<line x1="577.74" y1="36.56" x2="579.19" y2="35.90" stroke="#5c5c5c" stroke-width="0.70"/>
<line x1="569.75" y1="71.58" x2="569.33" y2="73.13" stroke="#626262" stroke-width="0.70"/>
<line x1="569.33" y1="73.13" x2="567.91" y2="73.86" stroke="#626262" stroke-width="0.70"/>
<line x1="569.33" y1="73.13" x2="570.36" y2="74.36" stroke="#626262" stroke-width="0.70"/>
<line x1="554.64" y1="52.97" x2="551.84" y2="54.10" stroke="#626262" stroke-width="0.70"/>
<line x1="551.84" y1="54.10" x2="550.53" y2="53.18" stroke="#626262" stroke-width="0.70"/>
<line x1="551.84" y1="54.10" x2="550.73" y2="52.94" stroke="#626262" stroke-width="0.70"/>
<line x1="561.82" y1="37.86" x2="560.41" y2="35.35" stroke="#787878" stroke-width="0.70"/>
<line x1="567.80" y1="70.83" x2="568.34" y2="73.68" stroke="#787878" stroke-width="0.70"/>
<line x1="568.34" y1="73.68" x2="567.13" y2="74.73" stroke="#787878" stroke-width="0.70"/>
<line x1="568.34" y1="73.68" x2="569.77" y2="74.40" stroke="#787878" stroke-width="0.70"/>
<line x1="553.69" y1="60.07" x2="550.84" y2="59.11" stroke="#6a6a6a" stroke-width="0.70"/>
<line x1="550.84" y1="59.11" x2="550.71" y2="57.52" stroke="#6a6a6a" stroke-width="0.70"/>
<line x1="550.84" y1="59.11" x2="549.84" y2="60.36" stroke="#6a6a6a" stroke-width="0.70"/>
<line x1="588.34" y1="66.58" x2="590.45" y2="68.05" stroke="#5c5c5c" stroke-width="0.70"/>
<line x1="590.45" y1="68.05" x2="590.59" y2="69.65" stroke="#5c5c5c" stroke-width="0.70"/>
<line x1="590.45" y1="68.05" x2="591.97" y2="67.54" stroke="#5c5c5c" stroke-width="0.70"/>
<line x1="572.32" y1="70.77" x2="572.44" y2="72.48" stroke="#626262" stroke-width="0.70"/>
<line x1="572.44" y1="72.48" x2="571.08" y2="73.33" stroke="#626262" stroke-width="0.70"/>
<line x1="572.44" y1="72.48" x2="571.00" y2="73.19" stroke="#626262" stroke-width="0.70"/>
<line x1="554.22" y1="55.91" x2="552.42" y2="54.72" stroke="#5c5c5c" stroke-width="0.70"/>
<line x1="554.95" y1="52.55" x2="552.95" y2="53.86" stroke="#626262" stroke-width="0.70"/>
<line x1="588.62" y1="48.02" x2="591.53" y2="48.11" stroke="#6a6a6a" stroke-width="0.70"/>
<line x1="591.53" y1="48.11" x2="591.95" y2="49.65" stroke="#6a6a6a" stroke-width="0.70"/>
<line x1="591.53" y1="48.11" x2="592.22" y2="49.56" stroke="#6a6a6a" stroke-width="0.70"/>
<line x1="555.84" y1="57.89" x2="553.89" y2="60.11" stroke="#5c5c5c" stroke-width="0.70"/>
<line x1="553.89" y1="60.11" x2="554.49" y2="61.59" stroke="#5c5c5c" stroke-width="0.70"/>
<line x1="553.89" y1="60.11" x2="552.29" y2="60.09" stroke="#5c5c5c" stroke-width="0.70"/>
<line x1="566.41" y1="72.06" x2="565.46" y2="73.60" stroke="#6a6a6a" stroke-width="0.70"/>
<line x1="565.46" y1="73.60" x2="565.86" y2="75.15" stroke="#6a6a6a" stroke-width="0.70"/>
<line x1="565.46" y1="73.60" x2="566.26" y2="74.99" stroke="#6a6a6a" stroke-width="0.70"/>
<line x1="573.28" y1="70.84" x2="572.47" y2="72.41" stroke="#6a6a6a" stroke-width="0.70"/>
<line x1="577.29" y1="35.60" x2="577.41" y2="33.19" stroke="#5c5c5c" stroke-width="0.70"/>
<line x1="577.41" y1="33.19" x2="576.01" y2="32.43" stroke="#5c5c5c" stroke-width="0.70"/>
<line x1="577.41" y1="33.19" x2="578.96" y2="32.80" stroke="#5c5c5c" stroke-width="0.70"/>
<line x1="556.45" y1="49.58" x2="554.19" y2="49.14" stroke="#848484" stroke-width="0.70"/>
<line x1="554.19" y1="49.14" x2="553.83" y2="47.58" stroke="#848484" stroke-width="0.70"/>
<line x1="554.19" y1="49.14" x2="553.54" y2="47.68" stroke="#848484" stroke-width="0.70"/>
<line x1="555.52" y1="44.15" x2="553.57" y2="42.55" stroke="#6a6a6a" stroke-width="0.70"/>
<line x1="553.57" y1="42.55" x2="553.98" y2="41.01" stroke="#6a6a6a" stroke-width="0.70"/>
<line x1="553.57" y1="42.55" x2="552.06" y2="43.09" stroke="#6a6a6a" stroke-width="0.70"/>
<line x1="576.26" y1="38.12" x2="576.21" y2="36.43" stroke="#848484" stroke-width="0.70"/>
<line x1="567.19" y1="70.57" x2="568.21" y2="73.29" stroke="#848484" stroke-width="0.70"/>
<line x1="568.21" y1="73.29" x2="569.76" y2="73.69" stroke="#848484" stroke-width="0.70"/>
<line x1="568.21" y1="73.29" x2="567.48" y2="74.71" stroke="#848484" stroke-width="0.70"/>
<line x1="591.70" y1="51.86" x2="593.19" y2="52.73" stroke="#848484" stroke-width="0.70"/>
<line x1="584.77" y1="40.93" x2="587.30" y2="40.49" stroke="#626262" stroke-width="0.70"/>
<line x1="587.30" y1="40.49" x2="588.30" y2="41.73" stroke="#626262" stroke-width="0.70"/>
<line x1="587.30" y1="40.49" x2="587.95" y2="39.03" stroke="#626262" stroke-width="0.70"/>
<line x1="588.19" y1="66.10" x2="589.60" y2="68.35" stroke="#848484" stroke-width="0.70"/>
<line x1="589.60" y1="68.35" x2="588.83" y2="69.75" stroke="#848484" stroke-width="0.70"/>
<line x1="589.60" y1="68.35" x2="588.79" y2="69.72" stroke="#848484" stroke-width="0.70"/>
<line x1="590.71" y1="53.06" x2="593.47" y2="51.64" stroke="#787878" stroke-width="0.70"/>
<line x1="593.47" y1="51.64" x2="594.68" y2="52.70" stroke="#787878" stroke-width="0.70"/>
<line x1="593.47" y1="51.64" x2="594.66" y2="52.72" stroke="#787878" stroke-width="0.70"/>
<line x1="581.64" y1="40.29" x2="581.62" y2="38.76" stroke="#5c5c5c" stroke-width="0.70"/>
<line x1="581.62" y1="38.76" x2="582.87" y2="37.76" stroke="#5c5c5c" stroke-width="0.70"/>
<line x1="581.62" y1="38.76" x2="580.21" y2="38.01" stroke="#5c5c5c" stroke-width="0.70"/>
<line x1="555.17" y1="63.56" x2="553.68" y2="66.34" stroke="#626262" stroke-width="0.70"/>
<line x1="553.68" y1="66.34" x2="554.63" y2="67.63" stroke="#626262" stroke-width="0.70"/>
<line x1="553.68" y1="66.34" x2="554.51" y2="67.71" stroke="#626262" stroke-width="0.70"/>
<line x1="563.15" y1="70.67" x2="561.75" y2="71.41" stroke="#626262" stroke-width="0.70"/>
<line x1="554.48" y1="47.69" x2="552.19" y2="47.67" stroke="#5c5c5c" stroke-width="0.70"/>
<line x1="552.19" y1="47.67" x2="551.72" y2="49.20" stroke="#5c5c5c" stroke-width="0.70"/>
<line x1="552.19" y1="47.67" x2="551.72" y2="49.20" stroke="#5c5c5c" stroke-width="0.70"/>
<line x1="575.00" y1="38.16" x2="575.85" y2="35.91" stroke="#848484" stroke-width="0.70"/>
<line x1="575.85" y1="35.91" x2="574.64" y2="34.86" stroke="#848484" stroke-width="0.70"/>
<line x1="575.85" y1="35.91" x2="577.41" y2="35.59" stroke="#848484" stroke-width="0.70"/>
<line x1="556.03" y1="62.67" x2="554.58" y2="63.34" stroke="#626262" stroke-width="0.70"/>
<line x1="554.58" y1="63.34" x2="553.36" y2="62.30" stroke="#626262" stroke-width="0.70"/>
<line x1="554.58" y1="63.34" x2="553.47" y2="62.19" stroke="#626262" stroke-width="0.70"/>
<line x1="563.90" y1="70.66" x2="562.44" y2="72.59" stroke="#848484" stroke-width="0.70"/>
<line x1="562.44" y1="72.59" x2="560.91" y2="72.12" stroke="#848484" stroke-width="0.70"/>
<line x1="562.44" y1="72.59" x2="563.26" y2="73.97" stroke="#848484" stroke-width="0.70"/>
<line x1="557.80" y1="64.98" x2="555.37" y2="65.95" stroke="#5c5c5c" stroke-width="0.70"/>
<line x1="553.94" y1="61.37" x2="551.07" y2="61.47" stroke="#6a6a6a" stroke-width="0.70"/>
<line x1="551.07" y1="61.47" x2="549.94" y2="60.33" stroke="#6a6a6a" stroke-width="0.70"/>
<line x1="551.07" y1="61.47" x2="550.40" y2="60.01" stroke="#6a6a6a" stroke-width="0.70"/>
<line x1="555.79" y1="61.55" x2="553.70" y2="63.96" stroke="#6a6a6a" stroke-width="0.70"/>
<line x1="553.70" y1="63.96" x2="552.10" y2="63.80" stroke="#6a6a6a" stroke-width="0.70"/>
<line x1="553.70" y1="63.96" x2="552.10" y2="63.85" stroke="#6a6a6a" stroke-width="0.70"/>
<line x1="554.76" y1="64.45" x2="551.98" y2="65.37" stroke="#626262" stroke-width="0.70"/>
<line x1="551.98" y1="65.37" x2="550.72" y2="64.38" stroke="#626262" stroke-width="0.70"/>
<line x1="551.98" y1="65.37" x2="551.71" y2="66.94" stroke="#626262" stroke-width="0.70"/>
<line x1="573.75" y1="35.08" x2="575.47" y2="33.08" stroke="#5c5c5c" stroke-width="0.70"/>
<line x1="575.47" y1="33.08" x2="577.07" y2="33.00" stroke="#5c5c5c" stroke-width="0.70"/>
<line x1="575.47" y1="33.08" x2="577.02" y2="33.49" stroke="#5c5c5c" stroke-width="0.70"/>
<line x1="562.42" y1="68.22" x2="561.83" y2="71.05" stroke="#787878" stroke-width="0.70"/>
<line x1="561.83" y1="71.05" x2="560.26" y2="71.35" stroke="#787878" stroke-width="0.70"/>
<line x1="561.83" y1="71.05" x2="560.36" y2="71.68" stroke="#787878" stroke-width="0.70"/>
<line x1="573.77" y1="34.97" x2="572.29" y2="32.71" stroke="#6a6a6a" stroke-width="0.70"/>
<line x1="572.29" y1="32.71" x2="572.71" y2="31.16" stroke="#6a6a6a" stroke-width="0.70"/>
<line x1="572.29" y1="32.71" x2="570.69" y2="32.68" stroke="#6a6a6a" stroke-width="0.70"/>
<line x1="591.90" y1="51.30" x2="593.09" y2="50.26" stroke="#848484" stroke-width="0.70"/>
<line x1="593.09" y1="50.26" x2="592.56" y2="48.75" stroke="#848484" stroke-width="0.70"/>
<line x1="593.09" y1="50.26" x2="592.99" y2="48.67" stroke="#848484" stroke-width="0.70"/>
<line x1="573.88" y1="71.68" x2="573.71" y2="74.84" stroke="#848484" stroke-width="0.70"/>
<line x1="591.20" y1="46.37" x2="592.70" y2="45.42" stroke="#5c5c5c" stroke-width="0.70"/>
<line x1="572.49" y1="73.25" x2="569.35" y2="74.53" stroke="#6a6a6a" stroke-width="0.75"/>
<line x1="576.24" y1="41.84" x2="575.46" y2="43.46" stroke="#6a6a6a" stroke-width="0.56"/>
<line x1="573.86" y1="72.54" x2="575.60" y2="72.33" stroke="#787878" stroke-width="0.70"/>
<line x1="559.08" y1="56.65" x2="558.78" y2="59.77" stroke="#626262" stroke-width="0.62"/>
<line x1="553.69" y1="57.29" x2="555.14" y2="60.43" stroke="#787878" stroke-width="0.55"/>
<line x1="565.85" y1="35.32" x2="568.22" y2="33.61" stroke="#5c5c5c" stroke-width="0.66"/>
<line x1="582.47" y1="70.94" x2="580.62" y2="68.29" stroke="#6a6a6a" stroke-width="0.78"/>
<line x1="572.51" y1="33.53" x2="573.88" y2="35.04" stroke="#5c5c5c" stroke-width="0.65"/>
<line x1="576.55" y1="44.41" x2="574.41" y2="44.52" stroke="#848484" stroke-width="0.56"/>
<line x1="578.83" y1="46.62" x2="581.35" y2="47.42" stroke="#9a6a72" stroke-width="0.61"/>
<line x1="573.79" y1="72.86" x2="571.58" y2="72.60" stroke="#848484" stroke-width="0.77"/>
<line x1="584.03" y1="43.77" x2="582.32" y2="42.91" stroke="#787878" stroke-width="0.77"/>
<line x1="583.11" y1="61.61" x2="583.60" y2="58.81" stroke="#5c5c5c" stroke-width="0.73"/>
<line x1="582.84" y1="57.97" x2="582.11" y2="60.21" stroke="#848484" stroke-width="0.57"/>
<line x1="554.77" y1="50.32" x2="553.67" y2="48.62" stroke="#6a6a6a" stroke-width="0.66"/>
<line x1="565.24" y1="44.47" x2="563.20" y2="43.42" stroke="#626262" stroke-width="0.68"/>
<line x1="588.55" y1="60.17" x2="588.71" y2="61.74" stroke="#848484" stroke-width="0.73"/>
<line x1="573.39" y1="47.17" x2="571.77" y2="44.32" stroke="#a87880" stroke-width="0.79"/>
<line x1="561.59" y1="54.82" x2="561.11" y2="56.55" stroke="#b8868e" stroke-width="0.64"/>
<line x1="569.85" y1="33.32" x2="571.91" y2="33.89" stroke="#787878" stroke-width="0.76"/>
<line x1="560.49" y1="58.97" x2="558.74" y2="59.09" stroke="#626262" stroke-width="0.58"/>
<line x1="562.67" y1="69.97" x2="564.24" y2="70.80" stroke="#5c5c5c" stroke-width="0.76"/>
<line x1="590.92" y1="63.67" x2="591.38" y2="65.48" stroke="#787878" stroke-width="0.77"/>
<line x1="561.59" y1="69.46" x2="561.19" y2="67.65" stroke="#6a6a6a" stroke-width="0.59"/>
<line x1="591.58" y1="59.75" x2="589.14" y2="58.47" stroke="#626262" stroke-width="0.77"/>
<line x1="587.72" y1="67.06" x2="585.72" y2="64.49" stroke="#787878" stroke-width="0.60"/>
<line x1="554.58" y1="51.17" x2="553.12" y2="48.56" stroke="#6a6a6a" stroke-width="0.61"/>
<line x1="580.63" y1="40.04" x2="583.09" y2="39.61" stroke="#5c5c5c" stroke-width="0.64"/>
<line x1="583.72" y1="56.81" x2="582.84" y2="54.81" stroke="#b8868e" stroke-width="0.76"/>
<line x1="555.49" y1="53.72" x2="555.79" y2="50.68" stroke="#787878" stroke-width="0.76"/>
<line x1="566.59" y1="61.38" x2="568.39" y2="62.23" stroke="#787878" stroke-width="0.79"/>
<line x1="556.62" y1="63.03" x2="555.89" y2="65.70" stroke="#6a6a6a" stroke-width="0.65"/>
<line x1="553.08" y1="49.67" x2="553.02" y2="47.12" stroke="#6a6a6a" stroke-width="0.58"/>
<line x1="565.18" y1="40.72" x2="563.89" y2="38.03" stroke="#6a6a6a" stroke-width="0.63"/>
<line x1="555.94" y1="60.27" x2="555.50" y2="61.85" stroke="#848484" stroke-width="0.72"/>
<line x1="576.65" y1="38.60" x2="574.21" y2="40.39" stroke="#848484" stroke-width="0.78"/>
<line x1="576.53" y1="69.28" x2="575.42" y2="66.39" stroke="#5c5c5c" stroke-width="0.62"/>
<line x1="566.56" y1="36.72" x2="569.26" y2="37.22" stroke="#848484" stroke-width="0.56"/>
<line x1="586.77" y1="62.49" x2="588.13" y2="60.64" stroke="#626262" stroke-width="0.62"/>
<line x1="581.18" y1="46.56" x2="584.63" y2="46.78" stroke="#626262" stroke-width="0.59"/>
<line x1="558.01" y1="46.83" x2="558.61" y2="44.14" stroke="#626262" stroke-width="0.67"/>
<line x1="577.40" y1="34.85" x2="578.98" y2="37.68" stroke="#626262" stroke-width="0.60"/>
<line x1="589.62" y1="59.25" x2="587.65" y2="60.69" stroke="#5c5c5c" stroke-width="0.76"/>
<line x1="553.71" y1="56.21" x2="555.85" y2="55.45" stroke="#787878" stroke-width="0.78"/>
<line x1="563.89" y1="63.15" x2="564.01" y2="66.42" stroke="#787878" stroke-width="0.64"/>
<line x1="579.90" y1="42.35" x2="581.16" y2="45.06" stroke="#6a6a6a" stroke-width="0.62"/>
<line x1="591.30" y1="61.93" x2="589.85" y2="62.50" stroke="#5c5c5c" stroke-width="0.56"/>
<line x1="567.82" y1="64.89" x2="571.15" y2="65.67" stroke="#626262" stroke-width="0.79"/>
<line x1="587.94" y1="48.60" x2="586.59" y2="51.65" stroke="#848484" stroke-width="0.58"/>
<line x1="578.16" y1="72.29" x2="576.04" y2="73.58" stroke="#848484" stroke-width="0.78"/></g>
<g><line x1="494.5" y1="277.0" x2="486.5" y2="274.3" stroke="#5a5a5a" stroke-width="1.40" stroke-linecap="round"/>
<line x1="494.5" y1="277.0" x2="490.3" y2="281.3" stroke="#5a5a5a" stroke-width="1.40" stroke-linecap="round"/>
<line x1="494.5" y1="277.0" x2="492.8" y2="271.2" stroke="#5a5a5a" stroke-width="1.30" stroke-linecap="round"/>
<line x1="486.5" y1="274.3" x2="489.0" y2="276.5" stroke="#5a5a5a" stroke-width="1.30" stroke-linecap="round"/>
<line x1="494.5" y1="277.0" x2="497.0" y2="277.6" stroke="#5a5a5a" stroke-width="1.15" stroke-linecap="round"/>
<ellipse cx="497.6" cy="270.4" rx="2.1" ry="2.0" transform="rotate(0 497.6 270.4)" fill="none" stroke="#5a5a5a" stroke-width="1.00"/>
<line x1="497.0" y1="272.4" x2="496.8" y2="276.8" stroke="#5a5a5a" stroke-width="0.90" stroke-linecap="round"/>
<ellipse cx="501.6" cy="278.6" rx="3.6" ry="1.7" transform="rotate(-5 501.6 278.6)" fill="none" stroke="#5a5a5a" stroke-width="1.00"/>
<circle cx="496.6" cy="277.6" r="0.9" fill="#d8c040"/>
<line x1="505.0" y1="278.4" x2="509.5" y2="276.4" stroke="#5a5a5a" stroke-width="1.15" stroke-linecap="round"/>
<line x1="508.4" y1="269.8" x2="509.5" y2="276.4" stroke="#5a5a5a" stroke-width="1.20" stroke-linecap="round"/>
<ellipse cx="513.6" cy="273.2" rx="3.4" ry="1.9" transform="rotate(-25 513.6 273.2)" fill="none" stroke="#5a5a5a" stroke-width="1.00"/>
<line x1="509.5" y1="276.4" x2="510.5" y2="282.4" stroke="#5a5a5a" stroke-width="1.15" stroke-linecap="round"/>
<circle cx="510.6" cy="282.8" r="0.9" fill="#d8c040"/>
<line x1="517.3" y1="268.6" x2="520.5" y2="281.0" stroke="#5a5a5a" stroke-width="1.00" stroke-linecap="round"/>
<ellipse cx="524.6" cy="278.8" rx="2.1" ry="1.7" transform="rotate(0 524.6 278.8)" fill="none" stroke="#5a5a5a" stroke-width="1.00"/>
<ellipse cx="530.0" cy="276.4" rx="2.5" ry="2.2" transform="rotate(0 530.0 276.4)" fill="none" stroke="#5a5a5a" stroke-width="1.00"/>
<line x1="520.5" y1="281.0" x2="522.6" y2="279.4" stroke="#5a5a5a" stroke-width="1.15" stroke-linecap="round"/>
<line x1="520.5" y1="281.0" x2="521.4" y2="286.4" stroke="#5a5a5a" stroke-width="1.15" stroke-linecap="round"/>
<circle cx="521.2" cy="290.6" r="0.9" fill="#c83838"/>
<line x1="521.3" y1="286.4" x2="521.2" y2="290.0" stroke="#c04040" stroke-width="1.00" stroke-linecap="round"/>
<line x1="498.6" y1="283.6" x2="502.0" y2="287.0" stroke="#5a5a5a" stroke-width="1.15" stroke-linecap="round"/>
<line x1="502.0" y1="287.0" x2="507.4" y2="286.0" stroke="#5a5a5a" stroke-width="1.15" stroke-linecap="round"/>
<circle cx="496.6" cy="288.4" r="0.9" fill="#c83838"/>
<line x1="497.0" y1="288.0" x2="499.4" y2="286.0" stroke="#c04040" stroke-width="1.00" stroke-linecap="round"/>
<line x1="507.4" y1="286.0" x2="510.2" y2="288.6" stroke="#5a5a5a" stroke-width="1.15" stroke-linecap="round"/>
<circle cx="510.2" cy="288.6" r="0.9" fill="#3f8f8f"/>
<line x1="510.2" y1="288.6" x2="514.4" y2="287.6" stroke="#5a5a5a" stroke-width="1.15" stroke-linecap="round"/>
<line x1="514.4" y1="287.6" x2="518.4" y2="287.0" stroke="#5a5a5a" stroke-width="1.15" stroke-linecap="round"/>
<circle cx="515.2" cy="289.4" r="0.8" fill="#c83838"/>
<line x1="510.2" y1="288.6" x2="509.6" y2="292.8" stroke="#5a5a5a" stroke-width="1.15" stroke-linecap="round"/>
<circle cx="505.8" cy="294.4" r="0.9" fill="#c83838"/>
<circle cx="509.0" cy="295.4" r="0.9" fill="#c83838"/>
<line x1="509.6" y1="292.8" x2="506.2" y2="294.2" stroke="#c04040" stroke-width="1.00" stroke-linecap="round"/>
<line x1="509.6" y1="292.8" x2="509.0" y2="295.0" stroke="#c04040" stroke-width="1.00" stroke-linecap="round"/></g>
<path d="M85.00 84.52 L137.80 84.39 L144.80 84.25 L146.80 84.12 L148.20 83.94 L149.20 83.70 L149.90 83.36 L150.40 82.90 L150.90 82.06 L151.30 80.94 L151.70 79.30 L152.80 73.10 L153.00 72.40 L153.20 72.15 L153.40 72.40 L153.60 73.09 L154.50 78.25 L155.00 80.55 L155.50 82.02 L155.80 82.57 L156.20 83.06 L156.70 83.41 L157.40 83.68 L158.30 83.85 L159.40 83.96 L161.00 84.01 L162.60 83.96 L163.90 83.83 L165.00 83.62 L166.10 83.20 L166.80 82.64 L167.10 82.24 L167.40 81.63 L167.80 80.31 L168.10 78.74 L168.40 76.52 L168.80 72.42 L169.50 63.84 L169.70 62.22 L169.80 61.78 L169.90 61.63 L170.00 61.79 L170.20 62.92 L171.20 74.63 L171.50 77.35 L171.90 79.87 L172.30 81.38 L172.80 82.41 L173.40 83.03 L174.30 83.50 L175.50 83.82 L177.20 84.04 L179.50 84.18 L182.90 84.25 L189.10 84.28 L194.40 84.21 L197.50 84.07 L199.40 83.82 L200.10 83.62 L200.60 83.37 L201.10 82.96 L201.50 82.47 L201.90 81.77 L202.30 80.86 L203.50 77.49 L203.80 77.00 L204.00 76.90 L204.20 77.00 L204.50 77.48 L205.60 80.55 L206.10 81.71 L206.60 82.52 L207.20 83.13 L207.60 83.36 L208.10 83.54 L209.50 83.74 L211.50 83.71 L213.10 83.44 L213.90 83.12 L214.50 82.66 L215.00 82.00 L215.50 80.92 L215.90 79.66 L216.30 78.00 L217.50 71.86 L217.80 70.97 L218.00 70.78 L218.20 70.97 L218.50 71.86 L219.60 77.52 L220.10 79.66 L220.70 81.40 L221.30 82.42 L221.90 82.97 L222.60 83.29 L223.50 83.44 L224.20 83.35 L224.60 83.12 L225.00 82.66 L226.00 80.62 L226.20 80.40 L226.30 80.37 L226.40 80.41 L226.60 80.66 L227.40 82.48 L227.80 83.14 L228.30 83.61 L229.00 83.89 M233.50 81.81 L234.60 82.31 L235.70 82.70 L236.90 83.04 L238.30 83.35 L241.50 83.80 L245.50 84.08 L252.40 84.24 L264.00 84.27 L276.50 84.18 L280.00 84.11 L282.00 84.00 L282.90 83.87 L283.40 83.68 L283.70 83.42 L283.90 82.98 L284.10 81.93 L284.50 77.49 L284.60 77.01 L284.70 77.47 L285.10 81.86 L285.30 82.88 L285.40 83.14 L285.60 83.40 L286.00 83.58 L286.60 83.63 L287.60 83.55 L288.60 83.35 L289.30 83.14 L290.00 82.83 L290.60 82.45 L291.10 82.01 L291.60 81.39 L292.10 80.49 L292.50 79.42 L292.80 78.29 L293.10 76.66 L293.30 75.15 L293.70 70.40 L294.00 64.47 L294.20 58.94 L295.00 25.72 L295.20 20.32 L295.30 19.60 L295.40 20.32 L295.60 25.72 L296.40 58.93 L296.70 66.73 L297.10 73.12 L297.30 75.15 L297.60 77.27 L297.90 78.71 L298.30 80.00 L298.80 81.07 L299.30 81.79 L300.00 82.45 L300.80 82.92 L302.00 83.35 L303.60 83.63 L305.00 83.68 L305.40 83.61 L305.70 83.45 L305.90 83.20 L306.00 82.95 L306.20 81.97 L306.60 77.73 L306.70 77.29 L306.80 77.74 L307.20 82.02 L307.40 83.03 L307.60 83.45 L307.90 83.70 L308.40 83.88 L309.30 84.00 L313.10 84.13 L321.20 84.20 L360.30 84.20 L378.10 84.11 L382.00 84.02 L384.50 83.85 L385.90 83.63 L386.80 83.33 L387.40 82.89 L387.90 82.14 L388.20 81.39 L388.50 80.32 L388.90 78.37 L389.60 74.27 L389.80 73.50 L390.00 73.20 L390.10 73.27 L390.20 73.47 L390.40 74.22 L391.20 78.73 L391.70 80.80 L392.20 81.94 L392.50 82.30 L392.90 82.52 L393.30 82.52 L393.70 82.31 L394.10 81.80 L394.40 81.14 L394.90 79.33 L395.80 74.48 L396.00 73.76 L396.10 73.56 L396.20 73.50 L396.40 73.77 L396.60 74.51 L397.30 78.43 L397.70 80.30 L398.00 81.31 L398.40 82.19 L398.70 82.60 L399.00 82.86 L399.40 83.06 L399.80 83.16 L400.40 83.21 L400.90 83.16 L401.30 83.05 L401.70 82.83 L402.00 82.55 L402.30 82.10 L402.80 80.79 L403.20 79.11 L404.00 74.77 L404.20 74.05 L404.40 73.79 L404.60 74.06 L404.80 74.79 L405.70 79.68 L406.20 81.54 L406.50 82.25 L406.90 82.86 L407.30 83.20 L407.90 83.49 L408.70 83.70 L409.90 83.86 L413.60 84.04 L420.60 84.12 L435.30 84.14" fill="none" stroke="#5cd65c" stroke-width="1.30" stroke-linejoin="round"/>
<path d="M64.20 139.69 L119.50 139.49 L125.50 139.38 L127.20 139.27 L128.30 139.11 L129.10 138.88 L129.70 138.53 L130.10 138.01 L130.40 137.26 L130.70 135.94 L130.90 134.61 L131.60 127.77 L131.80 126.48 L131.90 126.31 L132.00 126.48 L132.20 127.76 L132.70 132.88 L133.10 135.92 L133.50 137.54 L133.70 137.99 L134.00 138.40 L134.50 138.75 L135.10 138.96 L136.00 139.13 L137.20 139.22 L139.10 139.25 L141.00 139.18 L142.40 139.05 L143.50 138.82 L144.40 138.44 L144.80 138.13 L145.10 137.78 L145.40 137.24 L145.60 136.66 L145.90 135.24 L146.20 132.72 L146.40 130.21 L147.10 117.24 L147.30 114.80 L147.40 114.46 L147.50 114.80 L147.70 117.24 L148.40 130.20 L148.60 132.72 L148.90 135.24 L149.20 136.66 L149.60 137.63 L150.10 138.22 L150.90 138.69 L151.90 138.97 L153.40 139.16 L155.60 139.28 L158.90 139.34 L175.40 139.29 L178.70 139.18 L180.60 138.97 L181.20 138.80 L181.60 138.60 L182.00 138.23 L182.30 137.75 L182.60 137.01 L182.90 135.96 L183.70 132.32 L183.90 131.83 L184.00 131.76 L184.10 131.83 L184.30 132.31 L185.00 135.52 L185.40 136.98 L185.80 137.90 L186.30 138.48 L186.70 138.71 L187.30 138.88 L189.10 139.05 L191.70 139.00 L192.80 138.89 L193.60 138.72 L194.40 138.40 L194.90 137.99 L195.30 137.33 L195.60 136.48 L195.90 135.17 L196.20 133.30 L197.00 126.82 L197.20 125.94 L197.30 125.82 L197.40 125.94 L197.60 126.82 L198.30 132.55 L198.70 135.17 L199.10 136.81 L199.40 137.53 L199.70 137.98 L200.10 138.34 L200.50 138.55 L201.10 138.74 L201.90 138.89 L202.90 138.96 L203.60 138.88 L204.10 138.66 L204.80 138.15 L205.00 138.10 L205.30 138.23 L206.10 138.85 L206.60 139.04 L207.50 139.14 L209.40 139.20 M213.20 138.03 L215.50 138.48 L218.20 138.79 L221.50 139.00 L225.60 139.12 L234.40 139.18 L250.60 139.13 L258.60 139.05 L261.60 138.90 L262.20 138.79 L262.60 138.60 L262.80 138.41 L263.00 137.97 L263.20 136.91 L263.60 132.41 L263.70 131.94 L263.80 132.41 L264.10 135.98 L264.30 137.50 L264.50 138.18 L264.70 138.46 L264.90 138.59 L265.70 138.75 L267.10 138.73 L268.70 138.55 L269.90 138.27 L270.70 137.94 L271.30 137.54 L271.80 137.04 L272.30 136.25 L272.60 135.54 L272.90 134.47 L273.10 133.35 L273.30 131.57 L273.60 126.18 L273.80 119.20 L274.20 91.57 L274.80 27.57 L274.90 21.67 L275.00 19.60 L275.10 21.67 L275.30 36.42 L275.90 100.43 L276.10 114.19 L276.30 123.13 L276.60 130.23 L276.90 133.34 L277.20 134.87 L277.50 135.79 L278.00 136.75 L278.60 137.44 L279.10 137.80 L279.80 138.14 L280.60 138.38 L281.50 138.55 L282.90 138.69 L284.20 138.73 L285.00 138.66 L285.50 138.47 L285.80 138.11 L286.00 137.41 L286.20 135.85 L286.50 132.16 L286.60 131.67 L286.70 132.16 L287.10 136.79 L287.30 137.88 L287.50 138.33 L287.80 138.59 L288.30 138.77 L289.00 138.86 L292.30 138.97 L300.70 139.00 L348.20 138.88 L359.10 138.76 L361.70 138.66 L363.50 138.48 L364.70 138.21 L365.50 137.83 L366.00 137.31 L366.40 136.48 L366.70 135.42 L367.00 133.83 L368.00 125.51 L368.20 124.58 L368.30 124.45 L368.40 124.57 L368.60 125.51 L369.40 132.41 L369.70 134.40 L370.00 135.79 L370.30 136.69 L370.70 137.38 L371.20 137.82 L371.90 138.11 L372.60 138.26 L373.40 138.35 L375.10 138.31 L376.20 138.05 L376.60 137.82 L376.90 137.51 L377.30 136.80 L377.60 135.91 L378.00 134.12 L378.70 130.20 L378.90 129.60 L379.00 129.52 L379.10 129.60 L379.30 130.20 L380.10 134.66 L380.40 135.94 L380.70 136.84 L381.00 137.42 L381.40 137.88 L381.80 138.12 L382.40 138.33 L383.30 138.49 L384.50 138.60 L388.60 138.71 L415.70 138.71" fill="none" stroke="#eba460" stroke-width="1.30" stroke-linejoin="round"/>
<path d="M45.00 194.61 L99.90 194.52 L105.60 194.40 L107.10 194.29 L108.20 194.09 L109.00 193.78 L109.30 193.58 L109.60 193.26 L109.90 192.69 L110.20 191.58 L110.60 188.46 L111.30 178.52 L111.40 177.67 L111.50 177.36 L111.60 177.67 L111.70 178.52 L112.20 185.94 L112.50 189.46 L112.70 191.00 L112.90 192.02 L113.10 192.67 L113.30 193.08 L113.70 193.55 L114.20 193.85 L114.90 194.07 L115.80 194.21 L117.40 194.29 L119.40 194.27 L120.80 194.16 L121.90 193.95 L122.70 193.61 L123.30 193.08 L123.70 192.34 L124.00 191.16 L124.20 189.72 L124.40 187.45 L125.00 175.74 L125.20 173.06 L125.30 172.71 L125.40 172.92 L125.60 173.86 L125.70 174.10 L125.80 174.00 L126.20 171.97 L126.30 172.25 L126.40 173.27 L127.00 185.60 L127.20 188.50 L127.40 190.40 L127.70 191.98 L128.00 192.75 L128.30 193.18 L128.60 193.47 L129.40 193.89 L130.50 194.16 L132.20 194.33 L138.60 194.47 L155.90 194.43 L159.20 194.32 L161.10 194.10 L161.70 193.92 L162.10 193.71 L162.50 193.32 L162.80 192.82 L163.10 192.04 L163.40 190.94 L164.20 187.11 L164.40 186.59 L164.50 186.52 L164.60 186.59 L164.80 187.10 L165.50 190.48 L165.90 192.02 L166.30 192.98 L166.80 193.59 L167.20 193.83 L167.80 194.01 L169.60 194.19 L172.10 194.13 L173.10 194.01 L173.90 193.82 L174.70 193.46 L175.20 192.98 L175.60 192.24 L175.90 191.27 L176.20 189.77 L176.50 187.64 L177.30 180.24 L177.50 179.24 L177.60 179.11 L177.70 179.24 L177.90 180.24 L178.60 186.79 L179.00 189.78 L179.40 191.65 L179.70 192.48 L180.00 193.00 L180.40 193.41 L180.90 193.70 L181.60 193.94 L182.40 194.10 L184.80 194.31 L189.10 194.41 M193.20 193.24 L195.50 193.69 L198.10 194.00 L201.30 194.22 L205.30 194.35 L212.90 194.42 L225.70 194.42 L235.70 194.35 L240.70 194.23 L241.80 194.14 L242.50 194.01 L242.90 193.84 L243.20 193.49 L243.40 192.85 L243.50 192.26 L243.90 188.10 L244.00 187.66 L244.10 188.09 L244.40 191.38 L244.60 192.78 L244.70 193.16 L244.90 193.55 L245.30 193.79 L246.20 193.88 L247.60 193.74 L248.90 193.45 L249.90 193.05 L250.70 192.52 L251.30 191.88 L251.80 191.08 L252.20 190.13 L252.60 188.72 L252.90 187.17 L253.20 184.86 L253.40 182.55 L253.70 176.55 L254.00 163.57 L254.30 136.27 L254.90 35.26 L255.00 23.76 L255.10 19.60 L255.20 23.76 L255.30 35.26 L255.90 136.27 L256.10 156.47 L256.30 169.08 L256.60 179.05 L256.80 182.55 L257.10 185.74 L257.50 188.26 L257.90 189.83 L258.40 191.07 L259.00 192.00 L259.50 192.51 L260.10 192.94 L260.70 193.23 L261.50 193.51 L262.60 193.74 L263.80 193.88 L264.70 193.89 L265.30 193.77 L265.60 193.50 L265.80 192.98 L266.00 191.80 L266.30 189.00 L266.40 188.64 L266.50 189.01 L266.90 192.54 L267.10 193.37 L267.30 193.72 L267.60 193.93 L268.10 194.07 L269.00 194.18 L273.20 194.30 L282.10 194.37 L325.30 194.36 L336.50 194.26 L339.10 194.15 L340.80 193.97 L341.90 193.69 L342.70 193.26 L343.20 192.64 L343.60 191.60 L343.90 190.19 L344.10 188.83 L345.00 179.26 L345.20 177.95 L345.30 177.77 L345.40 177.95 L345.60 179.25 L346.30 187.05 L346.80 190.70 L347.10 191.89 L347.50 192.75 L348.00 193.26 L348.70 193.59 L349.90 193.80 L351.30 193.76 L351.80 193.65 L352.20 193.48 L352.70 193.03 L353.10 192.21 L353.40 191.15 L354.30 185.79 L354.50 185.06 L354.60 184.97 L354.70 185.07 L354.90 185.81 L355.60 190.21 L356.10 192.27 L356.40 192.95 L356.80 193.44 L357.30 193.74 L357.90 193.92 L358.80 194.07 L360.10 194.18 L364.50 194.29 L395.80 194.32" fill="none" stroke="#2e2cac" stroke-width="1.10" stroke-linejoin="round"/>
<path d="M25.20 248.61 L65.80 248.56 L79.90 248.47 L83.30 248.39 L85.50 248.25 L87.00 248.01 L88.00 247.63 L88.40 247.36 L88.80 246.94 L89.10 246.45 L89.30 245.97 L89.60 244.71 L89.90 241.99 L90.20 236.28 L90.80 215.15 L90.90 212.74 L91.00 211.87 L91.10 212.74 L91.20 215.14 L91.80 236.22 L92.10 241.92 L92.40 244.61 L92.70 245.85 L92.90 246.32 L93.20 246.78 L93.60 247.17 L94.00 247.39 L94.80 247.61 L95.70 247.62 L96.50 247.47 L97.20 247.13 L97.70 246.67 L98.10 246.03 L98.40 245.20 L98.60 244.25 L98.90 241.55 L99.20 235.94 L99.80 215.23 L99.90 212.81 L100.00 211.86 L100.10 212.57 L100.20 214.73 L100.80 233.19 L101.00 235.74 L101.10 236.07 L101.20 235.74 L101.50 230.97 L102.00 214.72 L102.10 212.56 L102.20 211.86 L102.30 212.81 L102.40 215.23 L103.00 235.98 L103.20 240.14 L103.40 242.76 L103.70 244.86 L104.00 245.90 L104.30 246.51 L104.60 246.91 L105.00 247.28 L105.40 247.54 L106.00 247.79 L106.80 248.00 L109.10 248.27 L112.80 248.41 L119.20 248.47 L131.40 248.46 L138.50 248.35 L142.00 248.13 L143.10 247.94 L143.90 247.68 L144.60 247.26 L145.10 246.65 L145.50 245.64 L145.80 244.27 L146.30 240.04 L147.00 231.05 L147.20 229.54 L147.30 229.33 L147.40 229.53 L147.60 231.03 L148.50 241.99 L148.80 244.17 L149.20 245.85 L149.40 246.33 L149.70 246.79 L150.10 247.15 L150.60 247.40 L151.30 247.57 L152.10 247.61 L152.90 247.54 L153.60 247.35 L154.40 246.90 L154.90 246.32 L155.30 245.40 L155.60 244.16 L155.90 242.14 L156.10 240.24 L156.90 229.54 L157.10 227.83 L157.20 227.52 L157.30 227.61 L157.40 228.08 L158.10 234.98 L158.30 236.08 L158.40 236.30 L158.50 236.30 L158.60 236.08 L158.80 234.98 L159.50 228.07 L159.60 227.61 L159.70 227.52 L159.80 227.83 L160.00 229.55 L160.60 237.92 L161.00 242.20 L161.40 244.72 L161.60 245.49 L161.90 246.25 L162.20 246.72 L162.70 247.19 L163.30 247.53 L164.10 247.81 L165.00 248.00 L166.20 248.15 L169.60 248.33 M173.60 247.20 L175.90 247.67 L178.50 247.99 L181.70 248.21 L185.80 248.35 L193.40 248.44 L206.40 248.44 L217.20 248.38 L222.00 248.27 L223.30 248.09 L223.60 247.93 L223.80 247.67 L224.00 247.04 L224.40 244.36 L224.50 244.08 L224.60 244.36 L225.00 246.99 L225.10 247.36 L225.30 247.76 L225.50 247.92 L225.90 248.03 L227.10 248.04 L228.40 247.91 L229.60 247.69 L230.50 247.40 L231.30 246.98 L231.90 246.48 L232.40 245.85 L232.80 245.09 L233.20 243.92 L233.50 242.40 L233.70 240.58 L234.00 234.67 L234.20 226.29 L234.40 211.54 L234.70 172.31 L235.30 48.98 L235.50 23.14 L235.60 19.60 L235.70 23.14 L235.80 33.35 L236.50 172.31 L236.70 200.97 L236.90 219.88 L237.10 231.11 L237.40 239.19 L237.60 241.61 L237.80 243.01 L238.20 244.58 L238.70 245.68 L239.20 246.37 L239.70 246.83 L240.30 247.21 L241.00 247.50 L242.00 247.77 L243.30 247.96 L244.70 248.06 L245.60 248.01 L246.00 247.85 L246.20 247.60 L246.30 247.36 L246.50 246.46 L246.80 244.34 L246.90 244.06 L247.00 244.35 L247.40 247.03 L247.50 247.40 L247.70 247.82 L248.00 248.04 L248.40 248.15 L250.20 248.29 L264.30 248.41 L294.70 248.36 L302.30 248.23 L304.40 248.09 L305.80 247.90 L306.90 247.56 L307.60 247.09 L308.00 246.54 L308.40 245.47 L308.70 244.01 L308.90 242.60 L309.80 232.76 L310.00 231.41 L310.10 231.22 L310.20 231.40 L310.40 232.73 L311.30 242.49 L311.60 244.42 L311.90 245.62 L312.10 246.13 L312.40 246.61 L312.70 246.89 L313.00 247.06 L313.50 247.20 L314.00 247.24 L314.50 247.19 L315.00 247.06 L315.50 246.82 L315.90 246.50 L316.20 246.15 L316.50 245.63 L316.90 244.40 L317.30 241.91 L317.60 238.57 L317.80 235.42 L318.60 217.72 L318.80 215.07 L318.90 214.72 L319.00 215.08 L319.20 217.73 L320.00 235.47 L320.20 238.64 L320.50 241.99 L320.80 244.03 L321.20 245.52 L321.50 246.15 L321.80 246.57 L322.20 246.96 L322.60 247.23 L323.70 247.68 L325.20 247.97 L327.40 248.15 L330.60 248.27 L342.70 248.36 L375.80 248.37" fill="none" stroke="#d048d4" stroke-width="1.30" stroke-linejoin="round"/>
<path d="M5.30 302.76 L41.30 302.64 L56.40 302.50 L60.60 302.40 L63.40 302.24 L65.40 302.01 L66.80 301.68 L67.80 301.21 L68.20 300.89 L68.50 300.54 L69.00 299.53 L69.40 298.03 L69.70 296.24 L70.00 293.74 L71.00 282.35 L71.20 281.18 L71.30 281.01 L71.40 281.15 L71.60 282.27 L72.60 293.42 L72.90 295.84 L73.20 297.53 L73.60 298.91 L74.00 299.61 L74.30 299.87 L74.60 300.00 L74.90 300.03 L75.30 299.95 L75.60 299.79 L75.90 299.52 L76.40 298.68 L76.80 297.43 L77.10 295.95 L77.60 292.11 L78.60 280.38 L78.90 278.05 L79.00 277.69 L79.10 277.57 L79.20 277.66 L79.40 278.38 L80.00 281.53 L80.20 281.96 L80.30 281.97 L80.40 281.84 L80.60 281.18 L81.20 277.44 L81.40 276.60 L81.50 276.47 L81.60 276.58 L81.70 276.94 L81.90 278.37 L83.00 291.86 L83.30 294.57 L83.70 297.12 L84.10 298.72 L84.40 299.48 L84.70 300.01 L85.10 300.50 L85.50 300.84 L86.00 301.15 L86.60 301.41 L87.50 301.68 L88.50 301.88 L91.20 302.16 L95.40 302.32 L101.90 302.39 L112.60 302.37 L119.60 302.25 L123.30 302.01 L124.50 301.83 L125.50 301.57 L126.30 301.18 L126.90 300.62 L127.30 299.93 L127.70 298.77 L128.00 297.46 L128.30 295.70 L129.30 287.72 L129.50 286.66 L129.60 286.37 L129.70 286.27 L129.80 286.36 L129.90 286.63 L130.10 287.65 L131.10 295.47 L131.40 297.18 L131.80 298.75 L132.20 299.68 L132.70 300.27 L133.00 300.44 L133.40 300.53 L133.80 300.53 L134.20 300.43 L134.80 300.07 L135.30 299.42 L135.70 298.46 L136.00 297.36 L136.30 295.83 L136.60 293.80 L137.70 284.21 L137.90 283.27 L138.00 283.05 L138.10 283.01 L138.20 283.14 L138.40 283.82 L139.10 287.40 L139.40 288.08 L139.50 288.11 L139.60 288.03 L139.80 287.58 L140.60 283.94 L140.80 283.59 L140.90 283.64 L141.00 283.87 L141.30 285.49 L142.10 292.61 L142.60 296.20 L143.10 298.49 L143.40 299.37 L143.70 299.98 L144.10 300.52 L144.50 300.87 L145.00 301.17 L145.60 301.42 L147.20 301.79 L149.60 302.05 M153.20 301.00 L155.40 301.47 L158.00 301.82 L161.10 302.05 L165.10 302.20 L170.90 302.28 L179.90 302.30 L195.80 302.26 L202.00 302.18 L203.30 302.05 L203.60 301.92 L203.80 301.72 L204.00 301.22 L204.40 299.11 L204.50 298.89 L204.60 299.11 L205.00 301.20 L205.10 301.50 L205.30 301.81 L205.60 301.98 L206.10 302.06 L208.10 302.06 L209.70 301.95 L210.90 301.79 L211.80 301.58 L212.50 301.27 L213.10 300.82 L213.50 300.33 L213.90 299.52 L214.20 298.53 L214.40 297.47 L214.60 295.50 L214.80 290.54 L215.00 276.80 L215.10 263.36 L215.30 215.94 L215.70 57.84 L215.80 29.85 L215.90 19.60 L216.00 29.85 L216.10 57.84 L216.50 215.94 L216.80 276.80 L217.00 290.54 L217.20 295.49 L217.50 298.06 L217.80 299.23 L218.10 299.96 L218.40 300.46 L218.80 300.90 L219.30 301.26 L219.80 301.49 L220.50 301.69 L221.40 301.85 L223.80 302.01 L225.40 301.98 L225.80 301.89 L226.10 301.70 L226.30 301.34 L226.40 301.00 L226.80 298.59 L226.90 298.33 L227.00 298.59 L227.40 301.01 L227.60 301.58 L227.80 301.82 L228.00 301.93 L229.10 302.09 L232.40 302.15 L241.20 302.16 L270.30 302.04 L277.60 301.87 L279.60 301.73 L281.10 301.52 L282.20 301.20 L283.00 300.73 L283.50 300.09 L283.90 299.15 L284.20 298.01 L284.50 296.38 L285.50 288.13 L285.70 286.94 L285.80 286.61 L285.90 286.49 L286.00 286.59 L286.20 287.41 L287.20 295.51 L287.50 297.27 L287.80 298.51 L288.20 299.52 L288.40 299.82 L288.70 300.12 L289.00 300.29 L289.40 300.38 L289.90 300.36 L290.30 300.24 L290.70 300.02 L291.10 299.65 L291.60 298.81 L292.00 297.46 L292.40 294.87 L292.70 291.65 L293.00 287.04 L293.80 271.02 L294.00 268.86 L294.10 268.57 L294.20 268.86 L294.40 271.04 L295.40 290.37 L295.90 295.82 L296.30 298.07 L296.70 299.26 L297.00 299.80 L297.30 300.18 L297.70 300.54 L298.20 300.86 L299.40 301.30 L301.10 301.60 L303.50 301.78 L307.00 301.89 L320.20 301.96 L355.80 301.91" fill="none" stroke="#d0383f" stroke-width="1.15" stroke-linejoin="round"/>
<path d="M522.00 83.45 L591.20 83.25 L613.20 83.14 L618.30 83.05 L621.50 82.91 L623.50 82.69 L624.90 82.32 L625.40 82.08 L625.90 81.71 L626.30 81.26 L626.60 80.75 L626.90 79.97 L627.10 79.15 L627.40 77.00 L627.70 72.80 L627.90 68.27 L628.60 44.00 L628.70 41.92 L628.80 41.18 L628.90 41.91 L629.00 43.99 L629.50 62.09 L629.80 70.68 L630.10 75.82 L630.40 78.50 L630.70 79.87 L631.00 80.63 L631.40 81.24 L632.00 81.76 L632.80 82.10 L633.90 82.27 L635.10 82.21 L636.10 81.96 L636.60 81.71 L637.00 81.40 L637.40 80.95 L637.70 80.46 L638.00 79.72 L638.20 78.98 L638.50 77.04 L638.80 72.97 L639.00 68.20 L639.60 44.01 L639.80 39.15 L639.90 39.05 L640.30 45.67 L640.40 46.34 L640.50 46.04 L640.60 44.75 L641.00 36.21 L641.10 36.14 L641.30 41.20 L641.80 63.82 L642.00 70.09 L642.20 74.23 L642.50 77.64 L642.80 79.29 L643.10 80.21 L643.40 80.82 L643.80 81.36 L644.20 81.72 L644.70 82.03 L645.40 82.32 L646.20 82.52 L647.20 82.67 L650.10 82.87 L654.70 82.96 L663.70 82.95 L669.60 82.80 L671.30 82.68 L672.60 82.51 L673.60 82.26 L674.30 81.97 L674.90 81.52 L675.30 80.97 L675.70 79.97 L676.00 78.68 L676.30 76.70 L676.60 73.87 L677.40 64.06 L677.60 62.73 L677.70 62.55 L677.80 62.73 L678.00 64.04 L678.70 72.67 L679.10 76.61 L679.50 79.06 L679.90 80.40 L680.20 80.96 L680.60 81.40 L681.20 81.75 L681.90 81.93 L682.70 81.99 L683.60 81.89 L684.40 81.63 L685.00 81.25 L685.60 80.57 L685.90 79.99 L686.10 79.43 L686.50 77.50 L686.80 74.85 L687.30 66.71 L688.00 49.32 L688.20 46.42 L688.30 46.02 L688.40 46.42 L688.60 49.33 L689.20 64.47 L689.60 72.27 L690.00 76.83 L690.20 78.19 L690.50 79.51 L690.90 80.51 L691.40 81.20 L692.10 81.76 L692.90 82.12 L694.00 82.40 L695.40 82.59 L699.80 82.81 M703.30 81.66 L705.40 82.08 L707.80 82.39 L710.70 82.61 L714.30 82.75 L720.70 82.82 L729.00 82.78 L734.30 82.67 L736.70 82.48 L737.20 82.36 L737.60 82.16 L737.80 81.95 L738.00 81.50 L738.20 80.41 L738.60 75.79 L738.70 75.29 L738.80 75.77 L739.20 80.33 L739.40 81.39 L739.50 81.65 L739.70 81.92 L740.10 82.10 L740.80 82.15 L741.80 82.03 L742.80 81.79 L743.60 81.47 L744.20 81.12 L744.70 80.72 L745.20 80.16 L745.60 79.53 L746.00 78.66 L746.30 77.76 L746.60 76.51 L747.00 73.91 L747.40 69.26 L747.70 63.47 L747.90 58.05 L748.70 25.57 L748.90 20.30 L749.00 19.60 L749.10 20.30 L749.30 25.57 L750.10 58.05 L750.40 65.67 L750.80 71.92 L751.00 73.90 L751.30 75.98 L751.60 77.38 L752.00 78.65 L752.50 79.69 L753.00 80.39 L753.60 80.95 L754.30 81.40 L755.50 81.84 L756.80 82.08 L757.80 82.05 L758.10 81.94 L758.30 81.76 L758.50 81.33 L758.70 80.28 L759.10 75.72 L759.20 75.24 L759.30 75.73 L759.70 80.35 L759.90 81.44 L760.10 81.89 L760.40 82.17 L760.90 82.36 L761.60 82.47 L765.20 82.64 L773.00 82.71 L789.90 82.70 L805.10 82.62 L810.80 82.53 L814.50 82.39 L817.00 82.19 L818.80 81.88 L819.50 81.66 L820.10 81.39 L820.50 81.13 L820.90 80.76 L821.20 80.35 L821.50 79.75 L821.90 78.43 L822.20 76.85 L822.50 74.60 L823.50 63.20 L823.70 61.53 L823.80 61.06 L823.90 60.87 L824.00 60.99 L824.10 61.38 L824.30 62.89 L825.00 70.67 L825.30 73.30 L825.50 74.57 L825.80 75.73 L826.00 76.02 L826.10 76.02 L826.20 75.92 L826.30 75.73 L826.50 75.05 L826.70 73.98 L827.10 70.69 L827.80 62.95 L828.00 61.42 L828.10 61.00 L828.20 60.86 L828.30 61.01 L828.40 61.43 L828.60 62.97 L829.30 70.74 L829.60 73.38 L830.00 75.60 L830.20 76.15 L830.40 76.33 L830.60 76.15 L830.80 75.61 L831.20 73.38 L831.50 70.72 L832.20 62.89 L832.40 61.37 L832.50 60.97 L832.60 60.85 L832.70 61.04 L832.90 62.23 L833.80 72.66 L834.10 75.41 L834.40 77.42 L834.80 79.16 L835.20 80.15 L835.70 80.84 L836.40 81.35 L837.50 81.78 L838.90 82.06 L840.80 82.26 L843.50 82.39 L852.50 82.51 L872.10 82.52" fill="none" stroke="#5cd65c" stroke-width="1.30" stroke-linejoin="round"/>
<path d="M501.70 139.66 L593.40 139.33 L598.50 139.26 L601.70 139.14 L603.70 138.95 L605.10 138.65 L605.60 138.44 L606.10 138.13 L606.50 137.76 L606.80 137.34 L607.10 136.69 L607.30 136.00 L607.60 134.21 L607.90 130.71 L608.10 126.93 L608.80 106.71 L608.90 104.98 L609.00 104.36 L609.10 104.97 L609.20 106.70 L609.70 121.78 L610.00 128.94 L610.30 133.23 L610.50 134.88 L610.70 135.93 L611.00 136.85 L611.30 137.39 L611.80 137.92 L612.40 138.27 L613.30 138.53 L614.40 138.62 L615.50 138.55 L616.50 138.33 L617.00 138.11 L617.40 137.85 L617.80 137.47 L618.10 137.05 L618.40 136.43 L618.60 135.80 L618.90 134.19 L619.20 130.83 L619.40 126.89 L620.00 106.74 L620.20 102.33 L620.30 101.91 L620.60 104.52 L620.70 105.06 L620.80 104.90 L621.30 97.41 L621.40 97.52 L621.50 99.17 L622.10 122.29 L622.30 127.83 L622.50 131.48 L622.80 134.49 L623.10 135.94 L623.30 136.53 L623.60 137.13 L624.00 137.66 L624.40 138.01 L624.90 138.31 L625.60 138.58 L626.40 138.76 L627.50 138.91 L630.40 139.08 L635.30 139.16 L644.70 139.13 L650.60 138.99 L652.30 138.88 L653.60 138.72 L654.60 138.50 L655.40 138.18 L656.00 137.75 L656.40 137.23 L656.80 136.27 L657.10 135.04 L657.40 133.14 L657.70 130.44 L658.50 121.06 L658.70 119.79 L658.80 119.62 L658.90 119.79 L659.10 121.04 L659.80 129.29 L660.20 133.05 L660.50 134.93 L660.90 136.43 L661.20 137.06 L661.60 137.55 L662.10 137.87 L662.70 138.07 L663.60 138.17 L664.50 138.09 L665.30 137.85 L665.90 137.49 L666.50 136.85 L666.80 136.30 L667.00 135.77 L667.40 133.93 L667.70 131.41 L668.20 123.66 L668.90 107.13 L669.10 104.36 L669.20 103.99 L669.30 104.37 L669.50 107.14 L670.10 121.54 L670.50 128.96 L670.90 133.30 L671.10 134.59 L671.40 135.85 L671.70 136.61 L672.20 137.35 L672.80 137.86 L673.60 138.26 L674.60 138.54 L675.80 138.73 L677.50 138.87 L679.70 138.96 M683.40 137.82 L685.40 138.23 L687.70 138.54 L690.40 138.76 L693.80 138.90 L699.30 138.99 L706.90 138.98 L713.50 138.90 L716.60 138.76 L717.60 138.55 L717.80 138.41 L718.00 138.13 L718.20 137.44 L718.60 134.56 L718.70 134.25 L718.80 134.55 L719.20 137.39 L719.40 138.05 L719.60 138.31 L719.90 138.45 L721.00 138.49 L722.10 138.37 L723.10 138.17 L724.00 137.88 L724.70 137.53 L725.30 137.07 L725.80 136.52 L726.20 135.90 L726.60 135.01 L726.90 134.05 L727.20 132.63 L727.40 131.21 L727.60 129.07 L727.90 123.33 L728.10 116.65 L728.50 92.52 L729.20 26.41 L729.30 21.35 L729.40 19.60 L729.50 21.35 L729.70 34.08 L730.40 100.09 L730.60 112.10 L730.90 123.32 L731.20 129.06 L731.40 131.20 L731.60 132.62 L731.90 134.03 L732.30 135.24 L732.80 136.22 L733.40 136.96 L734.30 137.61 L735.50 138.08 L736.30 138.25 L737.20 138.36 L737.80 138.35 L738.20 138.25 L738.50 137.93 L738.70 137.29 L739.10 134.49 L739.20 134.19 L739.30 134.50 L739.70 137.36 L739.80 137.76 L740.00 138.20 L740.20 138.39 L740.60 138.55 L741.90 138.71 L746.40 138.84 L755.50 138.88 L774.70 138.84 L788.20 138.74 L793.20 138.65 L796.50 138.51 L798.80 138.29 L800.40 137.97 L801.50 137.51 L801.90 137.24 L802.30 136.83 L802.80 135.94 L803.20 134.59 L803.50 132.94 L803.80 130.56 L804.70 119.98 L804.90 118.22 L805.00 117.71 L805.10 117.51 L805.20 117.62 L805.40 118.72 L806.10 126.39 L806.50 129.80 L806.70 130.86 L806.90 131.46 L807.00 131.59 L807.10 131.60 L807.30 131.28 L807.50 130.49 L807.80 128.40 L808.80 116.64 L809.00 115.36 L809.10 115.20 L809.20 115.38 L809.30 115.89 L809.50 117.73 L810.40 128.77 L810.70 131.08 L810.90 132.11 L811.10 132.76 L811.30 133.06 L811.40 133.08 L811.50 133.02 L811.60 132.87 L811.90 131.90 L812.10 130.78 L812.50 127.34 L813.30 118.01 L813.50 116.82 L813.60 116.69 L813.70 116.88 L813.90 118.20 L814.80 129.24 L815.10 132.00 L815.40 133.95 L815.70 135.25 L816.10 136.29 L816.60 137.00 L817.30 137.52 L818.30 137.91 L819.70 138.21 L821.60 138.40 L824.30 138.53 L833.30 138.65 L852.80 138.65" fill="none" stroke="#eba460" stroke-width="1.30" stroke-linejoin="round"/>
<path d="M482.20 196.49 L572.80 196.09 L581.70 195.90 L583.90 195.73 L585.40 195.46 L586.00 195.26 L586.50 195.01 L586.90 194.72 L587.30 194.27 L587.60 193.74 L587.80 193.20 L588.10 191.86 L588.40 189.47 L588.60 187.00 L588.90 181.75 L589.40 170.67 L589.60 167.89 L589.70 167.50 L589.80 167.88 L590.00 170.65 L590.50 181.70 L590.80 186.95 L591.10 190.35 L591.50 192.74 L591.80 193.63 L592.10 194.14 L592.60 194.64 L593.20 194.96 L594.00 195.18 L595.00 195.27 L596.10 195.20 L597.00 195.00 L597.50 194.80 L598.00 194.48 L598.40 194.11 L598.70 193.69 L599.00 193.08 L599.20 192.45 L599.50 190.89 L599.80 187.95 L600.00 184.83 L600.80 165.91 L600.90 164.86 L601.00 164.59 L601.10 165.00 L601.40 167.52 L601.50 167.93 L601.60 167.85 L601.80 166.04 L602.20 158.82 L602.30 157.80 L602.40 157.75 L602.60 160.91 L603.30 182.37 L603.70 189.03 L604.00 191.44 L604.40 193.01 L604.90 193.96 L605.30 194.41 L605.70 194.72 L606.70 195.18 L608.10 195.49 L610.30 195.67 L612.50 195.67 L613.10 195.58 L613.60 195.33 L614.00 194.91 L614.50 194.21 L614.80 194.01 L615.10 194.21 L615.90 195.27 L616.20 195.49 L616.50 195.62 L617.60 195.77 L620.10 195.83 L626.80 195.79 L631.50 195.64 L634.10 195.38 L635.00 195.18 L635.70 194.92 L636.30 194.55 L636.80 193.96 L637.20 193.08 L637.50 192.00 L637.80 190.43 L638.10 188.28 L639.00 180.15 L639.20 179.24 L639.30 179.12 L639.40 179.23 L639.50 179.58 L639.70 180.84 L640.40 187.35 L640.80 190.30 L641.20 192.25 L641.60 193.38 L641.90 193.88 L642.30 194.27 L642.80 194.53 L643.40 194.68 L644.10 194.72 L644.90 194.64 L645.60 194.44 L646.20 194.13 L646.60 193.80 L646.90 193.46 L647.40 192.50 L647.80 191.06 L648.20 188.51 L648.50 185.51 L648.80 181.40 L649.70 165.84 L649.90 164.11 L650.00 163.88 L650.10 164.11 L650.20 164.78 L650.40 167.23 L651.10 179.82 L651.50 185.56 L652.00 190.03 L652.20 191.14 L652.50 192.30 L652.90 193.26 L653.30 193.83 L653.90 194.36 L654.60 194.73 L655.50 195.03 L656.70 195.27 L658.10 195.42 L660.00 195.54 M663.40 194.43 L665.50 194.86 L668.00 195.19 L671.00 195.40 L674.60 195.53 L677.80 195.55 L679.20 195.46 L679.50 195.36 L679.70 195.21 L680.20 194.52 L680.40 194.37 L680.60 194.52 L681.00 195.10 L681.30 195.36 L681.70 195.48 L682.30 195.53 L685.80 195.54 L691.00 195.44 L694.50 195.29 L696.80 195.09 L697.60 194.94 L698.00 194.69 L698.20 194.34 L698.60 192.86 L698.70 192.70 L698.80 192.83 L699.20 194.19 L699.40 194.49 L699.60 194.59 L700.30 194.57 L701.30 194.34 L702.30 193.96 L703.10 193.50 L704.00 192.74 L704.80 191.66 L705.40 190.42 L705.90 188.88 L706.30 187.10 L706.70 184.55 L707.00 181.79 L707.30 177.69 L707.60 170.71 L707.90 156.85 L708.10 139.94 L708.30 113.10 L708.70 19.60 L710.10 19.60 L710.30 73.29 L710.60 127.97 L710.80 149.41 L711.10 167.15 L711.30 173.52 L711.50 177.68 L711.80 181.77 L712.10 184.53 L712.50 187.08 L713.00 189.21 L713.60 190.86 L714.30 192.09 L715.00 192.90 L715.90 193.58 L717.00 194.08 L718.00 194.29 L718.30 194.22 L718.50 193.98 L718.70 193.40 L719.00 192.00 L719.10 191.82 L719.20 192.03 L719.60 193.93 L719.80 194.39 L720.10 194.66 L720.70 194.85 L721.80 195.01 L725.70 195.25 L731.50 195.38 L740.30 195.43 L766.60 195.30 L771.90 195.20 L775.50 195.05 L778.00 194.84 L779.80 194.52 L781.10 194.07 L781.60 193.79 L782.00 193.45 L782.30 193.10 L782.60 192.61 L783.10 191.28 L783.50 189.55 L783.80 187.73 L785.00 177.46 L785.20 176.34 L785.40 175.88 L785.50 175.93 L785.60 176.15 L785.80 177.07 L786.60 183.23 L787.00 185.61 L787.20 186.36 L787.40 186.78 L787.50 186.86 L787.60 186.85 L787.80 186.58 L788.10 185.52 L788.40 183.71 L789.40 174.98 L789.60 173.87 L789.70 173.57 L789.80 173.46 L789.90 173.56 L790.00 173.85 L790.20 174.95 L791.30 184.21 L791.70 186.03 L791.90 186.41 L792.00 186.46 L792.10 186.42 L792.30 186.06 L792.60 184.86 L793.00 182.14 L793.80 175.20 L794.10 173.90 L794.20 173.85 L794.30 174.00 L794.50 174.88 L794.70 176.41 L795.70 186.16 L796.30 190.01 L796.70 191.55 L797.20 192.71 L797.80 193.45 L798.60 193.98 L799.80 194.40 L801.30 194.69 L803.30 194.89 L806.00 195.03 L814.90 195.16 L833.00 195.17" fill="none" stroke="#2e2cac" stroke-width="1.10" stroke-linejoin="round"/>
<path d="M462.20 254.52 L553.30 254.06 L562.30 253.88 L564.60 253.71 L566.10 253.45 L566.70 253.26 L567.20 253.02 L567.60 252.74 L568.00 252.32 L568.30 251.81 L568.50 251.29 L568.80 250.03 L569.10 247.75 L569.30 245.41 L569.60 240.41 L570.10 229.88 L570.30 227.24 L570.40 226.87 L570.50 227.23 L570.70 229.86 L571.20 240.37 L571.50 245.35 L571.80 248.58 L572.20 250.85 L572.50 251.69 L572.80 252.18 L573.30 252.65 L573.90 252.96 L574.70 253.16 L575.70 253.23 L576.80 253.15 L577.70 252.94 L578.20 252.73 L578.70 252.41 L579.10 252.01 L579.40 251.57 L579.70 250.89 L579.90 250.19 L580.20 248.42 L580.50 245.16 L580.70 241.84 L581.40 225.75 L581.60 223.69 L581.70 223.44 L581.90 223.48 L582.00 223.28 L582.10 222.73 L582.60 215.72 L582.70 214.95 L582.80 215.11 L583.00 218.56 L583.60 237.78 L583.80 242.43 L584.10 246.94 L584.40 249.35 L584.70 250.63 L584.90 251.16 L585.20 251.71 L585.60 252.20 L586.00 252.54 L586.60 252.86 L587.30 253.08 L588.20 253.23 L589.20 253.28 L590.10 253.22 L590.80 253.07 L591.30 252.84 L591.70 252.48 L592.10 251.79 L592.50 250.53 L592.90 248.50 L593.60 244.04 L593.80 243.36 L593.90 243.27 L594.00 243.36 L594.20 244.05 L595.00 249.11 L595.50 251.30 L595.80 252.08 L596.10 252.56 L596.50 252.94 L596.90 253.16 L598.10 253.46 L600.10 253.64 L603.40 253.71 L608.10 253.68 L611.40 253.59 L613.70 253.43 L615.30 253.19 L616.40 252.83 L617.00 252.45 L617.50 251.86 L617.90 250.97 L618.20 249.89 L618.50 248.31 L618.80 246.16 L619.70 237.99 L619.90 237.08 L620.00 236.95 L620.10 237.07 L620.20 237.42 L620.40 238.68 L621.10 245.21 L621.50 248.18 L621.90 250.13 L622.30 251.26 L622.60 251.76 L623.00 252.16 L623.40 252.37 L624.00 252.54 L624.70 252.59 L625.50 252.51 L626.20 252.30 L626.80 251.98 L627.20 251.65 L627.50 251.29 L628.00 250.30 L628.40 248.81 L628.80 246.17 L629.10 243.07 L629.40 238.82 L630.30 222.73 L630.50 220.94 L630.60 220.71 L630.70 220.95 L630.80 221.64 L631.00 224.18 L631.70 237.19 L632.10 243.12 L632.50 247.03 L632.70 248.35 L633.00 249.75 L633.30 250.65 L633.70 251.40 L634.20 251.97 L634.90 252.45 L635.70 252.79 L636.70 253.05 L638.00 253.24 L639.60 253.37 M643.20 251.30 L645.70 251.99 L648.60 252.52 L651.90 252.89 L655.70 253.12 L658.40 253.16 L659.20 253.11 L659.60 253.00 L659.90 252.78 L660.10 252.47 L660.60 251.00 L660.80 250.68 L661.00 251.00 L661.40 252.26 L661.60 252.66 L661.80 252.90 L662.00 253.03 L662.60 253.17 L665.50 253.25 L670.50 253.13 L674.20 252.91 L676.90 252.59 L677.90 252.35 L678.30 252.09 L678.50 251.74 L678.90 250.36 L679.00 250.20 L679.10 250.31 L679.50 251.50 L679.70 251.74 L680.00 251.81 L680.70 251.64 L681.60 251.24 L682.40 250.74 L683.10 250.15 L684.00 249.07 L684.80 247.61 L685.40 245.98 L685.90 243.91 L686.20 242.05 L686.50 239.35 L686.80 235.24 L687.00 231.31 L687.40 219.08 L687.70 204.60 L688.00 184.28 L688.30 157.60 L689.30 45.31 L689.60 24.02 L689.70 20.70 L689.80 19.60 L689.90 20.70 L690.00 24.02 L690.20 36.58 L691.40 167.18 L691.70 191.74 L692.10 214.82 L692.50 228.84 L692.80 235.22 L693.10 239.33 L693.50 242.71 L693.90 244.81 L694.40 246.56 L695.10 248.18 L695.70 249.16 L696.30 249.88 L697.00 250.50 L697.80 250.98 L698.20 251.05 L698.40 250.92 L698.60 250.50 L698.90 249.43 L699.00 249.31 L699.10 249.51 L699.40 250.81 L699.60 251.39 L699.80 251.68 L700.10 251.89 L701.00 252.20 L702.30 252.46 L704.00 252.68 L706.10 252.86 L710.40 253.07 L716.30 253.19 L747.80 253.37 L752.80 253.31 L756.30 253.18 L758.80 252.97 L760.60 252.64 L761.80 252.20 L762.30 251.91 L762.70 251.57 L763.30 250.72 L763.80 249.41 L764.20 247.74 L764.50 246.00 L764.90 242.99 L765.70 235.84 L766.00 234.04 L766.20 233.59 L766.30 233.63 L766.40 233.83 L766.60 234.69 L767.50 241.33 L767.90 243.47 L768.10 244.10 L768.30 244.40 L768.40 244.42 L768.50 244.36 L768.70 243.96 L769.00 242.71 L769.30 240.68 L770.40 229.74 L770.60 228.46 L770.80 227.92 L770.90 227.97 L771.00 228.22 L771.20 229.24 L772.10 236.49 L772.40 237.86 L772.60 238.20 L772.70 238.19 L772.80 238.07 L773.10 237.02 L774.10 230.18 L774.30 229.64 L774.40 229.65 L774.50 229.86 L774.70 230.85 L774.90 232.48 L776.00 243.84 L776.60 247.84 L777.00 249.47 L777.50 250.72 L778.10 251.55 L778.80 252.11 L779.80 252.58 L781.10 252.94 L782.80 253.21 L785.00 253.42 L788.30 253.59 L795.00 253.76 L813.00 254.48" fill="none" stroke="#d048d4" stroke-width="1.30" stroke-linejoin="round"/>
<path d="M442.70 304.79 L449.70 304.50 L455.90 303.99 L461.90 303.21 L472.00 301.53 L475.80 300.97 L479.90 300.56 L483.80 300.42 L488.10 300.53 L492.70 300.88 L497.40 301.43 L508.50 303.02 L513.90 303.70 L520.10 304.29 L526.60 304.69 L532.40 304.90 L539.40 305.03 L561.20 305.11 L569.20 304.99 L571.00 304.84 L572.20 304.58 L572.80 304.30 L573.20 303.98 L573.60 303.45 L573.90 302.79 L574.30 301.12 L574.60 298.38 L574.80 294.70 L575.00 287.92 L575.40 262.93 L575.50 260.37 L575.60 262.93 L576.00 287.92 L576.30 296.82 L576.50 299.55 L576.80 301.68 L577.20 303.05 L577.50 303.62 L577.80 303.99 L578.50 304.47 L579.50 304.77 L581.00 304.96 L583.20 305.07 L592.10 305.17 L619.50 305.23 M623.60 304.03 L625.80 304.46 L628.40 304.78 L631.50 304.99 L635.40 305.13 L639.20 305.18 L640.80 305.14 L641.30 304.96 L641.80 304.32 L641.90 304.28 L642.60 305.03 L643.00 305.15 L643.70 305.19 L651.60 305.20 L657.10 305.09 L657.70 305.03 L658.00 304.93 L658.70 304.30 L658.80 304.33 L659.20 304.75 L659.50 304.90 L660.00 304.94 L661.10 304.86 L662.40 304.68 L663.50 304.40 L664.30 304.05 L665.00 303.55 L665.50 302.98 L666.00 302.09 L666.40 300.95 L666.70 299.64 L667.00 297.66 L667.20 295.70 L667.60 288.72 L667.90 277.27 L668.10 262.12 L668.40 207.79 L668.70 77.63 L668.80 55.40 L668.90 77.63 L669.20 207.79 L669.40 249.97 L669.60 270.85 L669.90 285.82 L670.10 291.04 L670.30 294.44 L670.60 297.66 L670.90 299.65 L671.30 301.29 L671.70 302.32 L672.20 303.13 L672.80 303.74 L673.60 304.22 L674.50 304.54 L676.40 304.88 L678.80 305.02 L679.30 304.89 L679.80 304.37 L679.90 304.33 L680.00 304.38 L680.40 304.85 L680.70 305.04 L681.20 305.13 L682.20 305.19 L697.50 305.34 L738.70 305.40 L745.30 305.30 L746.90 305.18 L748.00 304.97 L748.50 304.79 L748.90 304.55 L749.20 304.27 L749.50 303.85 L749.90 302.82 L750.20 301.24 L750.40 299.26 L750.60 295.85 L751.10 279.50 L751.20 278.26 L751.30 279.50 L751.80 295.85 L752.10 300.39 L752.30 301.90 L752.60 303.16 L753.00 304.02 L753.30 304.38 L753.60 304.63 L754.30 304.95 L755.30 305.17 L756.80 305.30 L759.00 305.38 L767.40 305.46 L792.80 305.52" fill="none" stroke="#d84c58" stroke-width="1.05" stroke-linejoin="round"/>
<line x1="5.3" y1="323.8" x2="355.3" y2="323.8" stroke="#6b6b6b" stroke-width="1.1"/>
<line x1="8.1" y1="323.8" x2="8.1" y2="326.0" stroke="#6b6b6b" stroke-width="1"/>
<line x1="71.5" y1="323.8" x2="71.5" y2="326.0" stroke="#6b6b6b" stroke-width="1"/>
<line x1="133.4" y1="323.8" x2="133.4" y2="326.0" stroke="#6b6b6b" stroke-width="1"/>
<line x1="216.5" y1="323.8" x2="216.5" y2="326.0" stroke="#6b6b6b" stroke-width="1"/>
<line x1="279.2" y1="323.8" x2="279.2" y2="326.0" stroke="#6b6b6b" stroke-width="1"/>
<line x1="341.4" y1="323.8" x2="341.4" y2="326.0" stroke="#6b6b6b" stroke-width="1"/>
<line x1="39.9" y1="323.8" x2="39.9" y2="325.4" stroke="#6b6b6b" stroke-width="0.9"/>
<line x1="102.4" y1="323.8" x2="102.4" y2="325.4" stroke="#6b6b6b" stroke-width="0.9"/>
<line x1="185.6" y1="323.8" x2="185.6" y2="325.4" stroke="#6b6b6b" stroke-width="0.9"/>
<line x1="247.8" y1="323.8" x2="247.8" y2="325.4" stroke="#6b6b6b" stroke-width="0.9"/>
<line x1="310.3" y1="323.8" x2="310.3" y2="325.4" stroke="#6b6b6b" stroke-width="0.9"/>
<path d="M148.8 324.8 Q150.4 321.6 151.8 322.7 Q152.8 323.6 153.8 325.2" fill="none" stroke="#333" stroke-width="1.2"/>
<line x1="442.7" y1="323.8" x2="792.8" y2="323.8" stroke="#6b6b6b" stroke-width="1.1"/>
<line x1="489.6" y1="323.8" x2="489.6" y2="326.0" stroke="#6b6b6b" stroke-width="1"/>
<line x1="546.0" y1="323.8" x2="546.0" y2="326.0" stroke="#6b6b6b" stroke-width="1"/>
<line x1="602.6" y1="323.8" x2="602.6" y2="326.0" stroke="#6b6b6b" stroke-width="1"/>
<line x1="667.8" y1="323.8" x2="667.8" y2="326.0" stroke="#6b6b6b" stroke-width="1"/>
<line x1="724.3" y1="323.8" x2="724.3" y2="326.0" stroke="#6b6b6b" stroke-width="1"/>
<line x1="780.6" y1="323.8" x2="780.6" y2="326.0" stroke="#6b6b6b" stroke-width="1"/>
<line x1="461.2" y1="323.8" x2="461.2" y2="325.4" stroke="#6b6b6b" stroke-width="0.9"/>
<line x1="517.6" y1="323.8" x2="517.6" y2="325.4" stroke="#6b6b6b" stroke-width="0.9"/>
<line x1="574.0" y1="323.8" x2="574.0" y2="325.4" stroke="#6b6b6b" stroke-width="0.9"/>
<line x1="639.6" y1="323.8" x2="639.6" y2="325.4" stroke="#6b6b6b" stroke-width="0.9"/>
<line x1="695.8" y1="323.8" x2="695.8" y2="325.4" stroke="#6b6b6b" stroke-width="0.9"/>
<line x1="752.2" y1="323.8" x2="752.2" y2="325.4" stroke="#6b6b6b" stroke-width="0.9"/>
<path d="M616.2 325.4 Q617.6 323.2 618.6 324.2 Q619.6 324.8 621.0 322.6" fill="none" stroke="#333" stroke-width="1.3"/>
<text x="410.90" y="76.60" font-size="16.20" text-anchor="start" font-weight="normal" fill="#111" stroke="#111" stroke-width="0.25" font-family="Liberation Sans, sans-serif">263 K</text>
<text x="391.40" y="131.60" font-size="16.20" text-anchor="start" font-weight="normal" fill="#111" stroke="#111" stroke-width="0.25" font-family="Liberation Sans, sans-serif">283 K</text>
<text x="371.10" y="186.60" font-size="16.20" text-anchor="start" font-weight="normal" fill="#111" stroke="#111" stroke-width="0.25" font-family="Liberation Sans, sans-serif">293 K</text>
<text x="351.90" y="240.10" font-size="16.20" text-anchor="start" font-weight="normal" fill="#111" stroke="#111" stroke-width="0.25" font-family="Liberation Sans, sans-serif">358 K</text>
<text x="331.70" y="293.30" font-size="16.20" text-anchor="start" font-weight="normal" fill="#111" stroke="#111" stroke-width="0.25" font-family="Liberation Sans, sans-serif">388 K</text>
<text x="852.00" y="72.00" font-size="16.20" text-anchor="start" font-weight="normal" fill="#111" stroke="#111" stroke-width="0.25" font-family="Liberation Sans, sans-serif">0 equiv. Et<tspan font-size="10.69" dy="4.6">3</tspan><tspan dy="-4.6">N</tspan></text>
<text x="832.40" y="128.60" font-size="16.20" text-anchor="start" font-weight="normal" fill="#111" stroke="#111" stroke-width="0.25" font-family="Liberation Sans, sans-serif">5 equiv. Et<tspan font-size="10.69" dy="4.6">3</tspan><tspan dy="-4.6">N</tspan></text>
<text x="805.50" y="185.10" font-size="16.20" text-anchor="start" font-weight="normal" fill="#111" stroke="#111" stroke-width="0.25" font-family="Liberation Sans, sans-serif">12 equiv. Et<tspan font-size="10.69" dy="4.6">3</tspan><tspan dy="-4.6">N</tspan></text>
<text x="784.10" y="243.20" font-size="16.20" text-anchor="start" font-weight="normal" fill="#111" stroke="#111" stroke-width="0.25" font-family="Liberation Sans, sans-serif">20 equiv. Et<tspan font-size="10.69" dy="4.6">3</tspan><tspan dy="-4.6">N</tspan></text>
<text x="764.10" y="294.60" font-size="16.20" text-anchor="start" font-weight="normal" fill="#111" stroke="#111" stroke-width="0.25" font-family="Liberation Sans, sans-serif">40 equiv. Et<tspan font-size="10.69" dy="4.6">3</tspan><tspan dy="-4.6">N</tspan></text>
<text x="8.10" y="344.20" font-size="15.60" text-anchor="middle" font-weight="normal" fill="#111" stroke="#111" stroke-width="0.35" font-family="Liberation Sans, sans-serif">10</text>
<text x="71.50" y="344.20" font-size="15.60" text-anchor="middle" font-weight="normal" fill="#111" stroke="#111" stroke-width="0.35" font-family="Liberation Sans, sans-serif">9</text>
<text x="133.40" y="344.20" font-size="15.60" text-anchor="middle" font-weight="normal" fill="#111" stroke="#111" stroke-width="0.35" font-family="Liberation Sans, sans-serif">8</text>
<text x="216.50" y="344.20" font-size="15.60" text-anchor="middle" font-weight="normal" fill="#111" stroke="#111" stroke-width="0.35" font-family="Liberation Sans, sans-serif">6</text>
<text x="279.20" y="344.20" font-size="15.60" text-anchor="middle" font-weight="normal" fill="#111" stroke="#111" stroke-width="0.35" font-family="Liberation Sans, sans-serif">5</text>
<text x="341.40" y="344.20" font-size="15.60" text-anchor="middle" font-weight="normal" fill="#111" stroke="#111" stroke-width="0.35" font-family="Liberation Sans, sans-serif">4</text>
<text x="489.60" y="344.20" font-size="15.60" text-anchor="middle" font-weight="normal" fill="#111" stroke="#111" stroke-width="0.35" font-family="Liberation Sans, sans-serif">10</text>
<text x="546.00" y="344.20" font-size="15.60" text-anchor="middle" font-weight="normal" fill="#111" stroke="#111" stroke-width="0.35" font-family="Liberation Sans, sans-serif">9</text>
<text x="602.60" y="344.20" font-size="15.60" text-anchor="middle" font-weight="normal" fill="#111" stroke="#111" stroke-width="0.35" font-family="Liberation Sans, sans-serif">8</text>
<text x="667.80" y="344.20" font-size="15.60" text-anchor="middle" font-weight="normal" fill="#111" stroke="#111" stroke-width="0.35" font-family="Liberation Sans, sans-serif">6</text>
<text x="724.30" y="344.20" font-size="15.60" text-anchor="middle" font-weight="normal" fill="#111" stroke="#111" stroke-width="0.35" font-family="Liberation Sans, sans-serif">5</text>
<text x="780.60" y="344.20" font-size="15.60" text-anchor="middle" font-weight="normal" fill="#111" stroke="#111" stroke-width="0.35" font-family="Liberation Sans, sans-serif">4</text>
<text x="158.00" y="363.80" font-size="16.20" text-anchor="start" font-weight="normal" fill="#111" stroke="#111" stroke-width="0.25" font-family="Liberation Sans, sans-serif">p.p.m.</text>
<text x="595.50" y="363.80" font-size="16.20" text-anchor="start" font-weight="normal" fill="#111" stroke="#111" stroke-width="0.25" font-family="Liberation Sans, sans-serif">p.p.m.</text>
<text x="3.70" y="19.80" font-size="22.00" text-anchor="start" font-weight="bold" fill="#111" stroke="#111" stroke-width="0.70" font-family="Liberation Sans, sans-serif">a</text>
<text x="480.60" y="19.60" font-size="22.00" text-anchor="start" font-weight="bold" fill="#111" stroke="#111" stroke-width="0.70" font-family="Liberation Sans, sans-serif">b</text>
</svg>
</body></html>
